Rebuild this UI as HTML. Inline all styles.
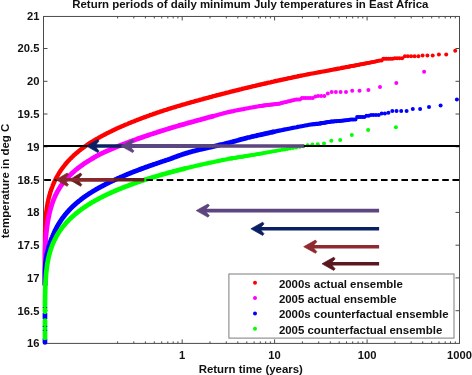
<!DOCTYPE html>
<html><head><meta charset="utf-8"><title>Return periods of daily minimum July temperatures in East Africa</title>
<style>
html,body{margin:0;padding:0;background:#fff;}
body{width:472px;height:375px;overflow:hidden;position:relative;}
text{font-family:"Liberation Sans",Arial,Helvetica,sans-serif;font-weight:bold;fill:#111;}
.t{font-size:11.45px;}
.k{font-size:11.2px;}
</style></head><body>
<svg width="472" height="375" viewBox="0 0 472 375" style="position:absolute;left:0;top:0">
<rect width="472" height="375" fill="#fff"/>
<rect x="43.5" y="16.45" width="416.0" height="326.95" fill="none" stroke="#4a4a4a" stroke-width="1"/>
<path d="M43.5,310.7h4M459.5,310.7h-4M43.5,277.9h4M459.5,277.9h-4M43.5,245.2h4M459.5,245.2h-4M43.5,212.4h4M459.5,212.4h-4M43.5,179.6h4M459.5,179.6h-4M43.5,146.8h4M459.5,146.8h-4M43.5,114.0h4M459.5,114.0h-4M43.5,81.3h4M459.5,81.3h-4M43.5,48.5h4M459.5,48.5h-4M117.6,343.4v-2M117.6,16.45v2M133.8,343.4v-2M133.8,16.45v2M145.4,343.4v-2M145.4,16.45v2M154.3,343.4v-2M154.3,16.45v2M161.7,343.4v-2M161.7,16.45v2M167.8,343.4v-2M167.8,16.45v2M173.2,343.4v-2M173.2,16.45v2M177.9,343.4v-2M177.9,16.45v2M182.2,343.4v-4M182.2,16.45v4M210.0,343.4v-2M210.0,16.45v2M226.3,343.4v-2M226.3,16.45v2M237.8,343.4v-2M237.8,16.45v2M246.8,343.4v-2M246.8,16.45v2M254.1,343.4v-2M254.1,16.45v2M260.3,343.4v-2M260.3,16.45v2M265.7,343.4v-2M265.7,16.45v2M270.4,343.4v-2M270.4,16.45v2M274.6,343.4v-4M274.6,16.45v4M302.4,343.4v-2M302.4,16.45v2M318.7,343.4v-2M318.7,16.45v2M330.3,343.4v-2M330.3,16.45v2M339.2,343.4v-2M339.2,16.45v2M346.5,343.4v-2M346.5,16.45v2M352.7,343.4v-2M352.7,16.45v2M358.1,343.4v-2M358.1,16.45v2M362.8,343.4v-2M362.8,16.45v2M367.1,343.4v-4M367.1,16.45v4M394.9,343.4v-2M394.9,16.45v2M411.2,343.4v-2M411.2,16.45v2M422.7,343.4v-2M422.7,16.45v2M431.7,343.4v-2M431.7,16.45v2M439.0,343.4v-2M439.0,16.45v2M445.2,343.4v-2M445.2,16.45v2M450.5,343.4v-2M450.5,16.45v2M455.3,343.4v-2M455.3,16.45v2" stroke="#4a4a4a" stroke-width="1" fill="none"/>
<path d="M45.0,341.0 L45.0,340.6 L45.0,340.3 L45.0,340.0 L45.0,339.7 L45.0,339.3 L45.0,339.0 L45.0,338.8 L45.0,338.5 L45.0,338.2 L45.0,337.8 L45.0,337.5 L45.0,337.2 L45.0,336.9 L45.0,336.6 L45.0,336.3 L45.0,336.0 L45.0,335.7 L45.0,335.4 L45.0,335.0 L45.0,334.8 L45.0,334.5 L45.0,334.2 L45.0,333.8 L45.0,333.5 L45.0,333.2 L45.0,332.9 L45.0,332.7 L45.0,332.3 L45.0,332.0 L45.0,331.7 L45.0,331.4 L45.0,331.0 L45.0,330.7 L45.0,330.5 L45.0,330.2 L45.0,329.9 L45.0,329.5 L45.0,329.2 L45.0,328.9 L45.0,328.7 L45.0,328.4 L45.0,328.0 L45.0,327.7 L45.0,327.4 L45.0,327.1 L45.0,326.7 L45.0,326.5 L45.0,326.2 L45.0,325.9 L45.0,325.6 L45.0,325.2 L45.0,324.9 L45.0,324.6 L45.0,324.4 L45.0,324.0 L45.0,323.7 L45.0,323.4 L45.0,323.1 L45.0,322.8 L45.0,322.4 L45.0,322.2 L45.0,321.9 L45.0,321.6 L45.0,321.2 L45.0,320.9 L45.0,320.6 L45.0,320.4 L45.0,320.1 L45.0,319.7 L45.0,319.4 L45.0,319.1 L45.0,318.8 L45.0,318.4 L45.0,318.2 L45.0,317.9 L45.0,317.6 L45.0,317.3 L45.0,316.9 L45.0,316.6 L45.0,316.3 L45.0,316.1 L45.0,315.8 L45.0,315.4 L45.0,315.1 L45.0,314.8 L45.0,314.5 L45.0,314.2 L45.0,313.9 L45.0,313.6 L45.0,313.3 L45.0,313.0 L45.0,312.6 L45.0,312.3 L45.0,312.1 L45.0,311.8 L45.0,311.4 L45.0,311.1 L45.0,310.8 L45.0,310.5 L45.0,310.2 L45.0,309.9 L45.0,309.6 L45.0,309.3 L45.0,309.0 L45.0,308.6 L45.0,308.3 L45.0,308.0 L45.0,307.8 L45.0,307.5 L45.0,307.1 L45.0,306.8 L45.0,306.5 L45.0,306.2 L45.0,306.0 L45.0,305.6 L45.0,305.3 L45.0,305.0 L45.0,304.7 L45.0,304.3 L45.0,304.0 L45.0,303.8 L45.0,303.5 L45.0,303.2 L45.0,302.8 L45.0,302.5 L45.0,302.2 L45.0,301.9 L45.0,301.6 L45.0,301.3 L45.0,301.0 L45.0,300.7 L45.0,300.3 L45.0,300.0 L45.0,299.8 L45.0,299.5 L45.0,299.2 L45.0,298.8 L45.0,298.5 L45.0,298.2 L45.0,297.9 L45.0,297.7 L45.0,297.3 L45.0,297.0 L45.0,296.7 L45.0,296.4 L45.0,296.0 L45.0,295.7 L45.0,295.5 L45.0,295.2 L45.0,294.9 L45.0,294.5 L45.0,294.2 L45.0,293.9 L45.0,293.6 L45.0,293.3 L45.0,293.0 L45.0,292.7 L45.0,292.4 L45.0,292.1 L45.0,291.7 L45.0,291.5 L45.0,291.2 L45.0,290.9 L45.0,290.5 L45.0,290.2 L45.0,289.9 L45.0,289.6 L45.0,289.4 L45.0,289.0 L45.0,288.7 L45.0,288.4 L45.0,288.1 L45.0,287.7 L45.0,287.4 L45.0,287.2 L45.0,286.9 L45.0,286.6 L45.0,286.2 L45.0,285.9 L45.0,285.6 L45.0,285.4 L45.0,285.1 L45.0,284.7 L45.0,284.4 L45.0,284.1" fill="none" stroke="#ff0000" stroke-width="3.6" stroke-linecap="butt" stroke-linejoin="round"/>
<path d="M45.0,284.7 L45.0,284.4 L45.0,284.1 L45.0,283.8 L45.0,283.4 L45.0,283.2 L45.0,282.9 L45.0,282.6 L45.0,282.3 L45.0,281.9 L45.0,281.6 L45.0,281.3 L45.0,281.1 L45.0,280.7 L45.0,280.4 L45.0,280.1 L45.0,279.8 L45.0,279.5 L45.0,279.2 L45.0,278.9 L45.0,278.6 L45.0,278.3 L45.0,277.9 L45.0,277.6 L45.0,277.3 L45.0,277.1 L45.0,276.8 L45.0,276.4 L45.0,276.1 L45.0,275.8 L45.0,275.5 L45.0,275.1 L45.0,274.9 L45.0,274.6 L45.0,274.3 L45.0,274.0 L45.0,273.6 L45.0,273.3 L45.0,273.0 L45.0,272.8 L45.0,272.5 L45.0,272.1 L45.0,271.8 L45.0,271.5 L45.0,271.2 L45.0,270.9 L45.0,270.6 L45.0,270.3 L45.0,270.0 L45.0,269.7 L45.0,269.3 L45.0,269.0 L45.0,268.8 L45.0,268.5 L45.0,268.1 L45.0,267.8 L45.0,267.5 L45.0,267.2 L45.0,266.9 L45.0,266.6 L45.0,266.3 L45.0,266.0 L45.0,265.7 L45.0,265.3 L45.0,265.0 L45.0,264.8 L45.0,264.5 L45.0,264.2 L45.0,263.8 L45.0,263.5 L45.0,263.2 L45.0,262.9 L45.0,262.7 L45.0,262.3 L45.0,262.0 L45.0,261.7 L45.0,261.4 L45.0,261.0 L45.0,260.7 L45.0,260.5 L45.0,260.2 L45.0,259.9 L45.0,259.5 L45.0,259.2 L45.0,258.9 L45.0,258.6 L45.0,258.3 L45.0,258.0 L45.0,257.7 L45.0,257.4 L45.0,257.1 L45.0,256.7 L45.0,256.5 L45.0,256.2 L45.0,255.9 L45.0,255.5 L45.0,255.2 L45.0,254.9 L45.0,254.6 L45.0,254.4 L45.0,254.0 L45.0,253.7 L45.0,253.4 L45.0,253.1 L45.0,252.7 L45.0,252.4 L45.0,252.2 L45.0,251.9 L45.0,251.6 L45.0,251.2 L45.0,250.9 L45.0,250.6 L45.0,250.4 L45.0,250.1 L45.0,249.7 L45.0,249.4 L45.0,249.1 L45.0,248.8 L45.0,248.4 L45.0,248.2 L45.0,247.9 L45.0,247.6 L45.0,247.3 L45.0,246.9 L45.0,246.6 L45.0,246.3 L45.0,246.1 L45.0,245.7 L45.0,245.4 L45.0,245.1 L45.0,244.8 L45.0,244.5 L45.0,244.1 L45.0,243.9 L45.0,243.6 L45.0,243.3 L45.0,242.9 L45.0,242.6 L45.0,242.3 L45.0,242.1 L45.0,241.8 L45.0,241.4 L45.0,241.1 L45.0,240.8 L45.0,240.5 L45.0,240.1 L45.0,239.9 L45.0,239.6 L45.0,239.3 L45.0,239.0 L45.0,238.6 L45.0,238.3 L45.0,238.0 L45.0,237.8 L45.0,237.5 L45.0,237.1 L45.0,236.8 L45.0,236.5 L45.0,236.2 L45.0,235.9 L45.0,235.6 L45.0,235.3 L45.1,235.0 L45.1,234.7 L45.1,234.3 L45.1,234.0 L45.1,233.8 L45.1,233.5 L45.1,233.1 L45.1,232.8 L45.1,232.5 L45.1,232.2 L45.1,231.9 L45.1,231.6 L45.1,231.3 L45.1,231.0 L45.1,230.7 L45.1,230.3 L45.2,230.0 L45.2,229.8 L45.2,229.5 L45.2,229.2 L45.2,228.8 L45.2,228.5 L45.2,228.2 L45.2,227.9 L45.2,227.7 L45.2,227.3 L45.2,227.0 L45.3,226.7 L45.3,226.4 L45.3,226.0 L45.3,225.7 L45.3,225.5 L45.3,225.2 L45.3,224.9 L45.3,224.5 L45.4,224.2 L45.4,223.9 L45.4,223.6 L45.4,223.3 L45.4,223.0 L45.4,222.7 L45.5,222.4 L45.5,222.1 L45.5,221.7 L45.5,221.5 L45.5,221.2 L45.5,220.9 L45.6,220.5 L45.6,220.2 L45.6,219.9 L45.6,219.6 L45.6,219.4 L45.7,219.0 L45.7,218.7 L45.7,218.4 L45.7,218.1 L45.8,217.7 L45.8,217.4 L45.8,217.2 L45.8,216.9 L45.9,216.6 L45.9,216.2 L45.9,215.9 L45.9,215.6 L46.0,215.4 L46.0,215.0 L46.0,214.7 L46.1,214.4 L46.1,214.1 L46.1,213.8 L46.2,213.4 L46.2,213.2 L46.2,212.9 L46.3,212.6 L46.3,212.2 L46.3,211.9 L46.4,211.6 L46.4,211.3 L46.4,211.1 L46.5,210.7 L46.5,210.4 L46.6,210.1 L46.6,209.8 L46.6,209.4 L46.7,209.1 L46.7,208.9 L46.8,208.6 L46.8,208.3 L46.9,207.9 L46.9,207.6 L47.0,207.3 L47.0,207.1 L47.0,206.8 L47.1,206.4 L47.1,206.1 L47.2,205.8 L47.2,205.5 L47.3,205.1 L47.3,204.9 L47.4,204.6 L47.5,204.3 L47.5,204.0 L47.6,203.6 L47.6,203.3 L47.7,203.0 L47.7,202.8 L47.8,202.4 L47.9,202.1 L47.9,201.8 L48.0,201.5 L48.1,201.2 L48.1,200.9 L48.2,200.6 L48.2,200.3 L48.3,200.0 L48.4,199.6 L48.5,199.3 L48.5,199.0 L48.6,198.8 L48.7,198.5 L48.7,198.1 L48.8,197.8 L48.9,197.5 L49.0,197.2 L49.1,196.8 L49.1,196.6 L49.2,196.3 L49.3,196.0 L49.4,195.7 L49.5,195.3 L49.5,195.0 L49.6,194.7 L49.7,194.5 L49.8,194.2 L49.9,193.8 L50.0,193.5 L50.1,193.2 L50.2,192.9 L50.2,192.6 L50.3,192.3 L50.4,192.0 L50.5,191.7 L50.6,191.4 L50.7,191.0 L50.9,190.7 L50.9,190.5 L51.0,190.2 L51.1,189.8 L51.3,189.5 L51.4,189.2 L51.5,188.9 L51.6,188.6 L51.7,188.3 L51.8,188.0 L51.9,187.7 L52.0,187.4 L52.2,187.0 L52.3,186.7 L52.4,186.5 L52.5,186.2 L52.6,185.9 L52.7,185.5 L52.9,185.2 L53.0,184.9 L53.1,184.6 L53.2,184.4 L53.4,184.0 L53.5,183.7 L53.6,183.4 L53.8,183.1 L53.9,182.7 L54.1,182.4 L54.2,182.2 L54.3,181.9 L54.5,181.6 L54.6,181.2 L54.8,180.9 L54.9,180.6 L55.1,180.3 L55.2,180.0 L55.3,179.7 L55.5,179.4 L55.7,179.1 L55.8,178.8 L56.0,178.4 L56.1,178.2 L56.3,177.9 L56.4,177.6 L56.6,177.2 L56.8,176.9 L57.0,176.6 L57.2,176.3 L57.3,176.1 L57.5,175.7 L57.6,175.4 L57.8,175.1 L58.0,174.8 L58.2,174.4 L58.4,174.1 L58.5,173.9 L58.7,173.6 L58.9,173.3 L59.1,172.9 L59.3,172.6 L59.5,172.3 L59.7,172.1 L59.9,171.8 L60.1,171.4 L60.3,171.1 L60.5,170.8 L60.7,170.5 L60.9,170.2 L61.1,169.9 L61.3,169.6 L61.5,169.3 L61.8,169.0 L62.0,168.7 L62.2,168.4 L62.4,168.0 L62.6,167.8 L62.8,167.5 L63.1,167.2 L63.3,166.9 L63.6,166.5 L63.8,166.2 L64.0,166.0 L64.2,165.7 L64.5,165.4 L64.7,165.1 L65.0,164.7 L65.3,164.4 L65.5,164.1 L65.7,163.9 L66.0,163.6 L66.2,163.3 L66.5,162.9 L66.8,162.6 L67.1,162.3 L67.3,162.0 L67.5,161.8 L67.8,161.5 L68.1,161.1 L68.4,160.8 L68.7,160.5 L69.0,160.2 L69.3,159.9 L69.5,159.7 L69.8,159.3 L70.1,159.0 L70.4,158.7 L70.7,158.4 L71.0,158.1 L71.3,157.9 L71.6,157.6 L71.9,157.2 L72.2,156.9 L72.6,156.6 L72.9,156.3 L73.2,156.0 L73.5,155.8 L73.8,155.4 L74.1,155.1 L74.5,154.8 L74.8,154.5 L75.2,154.2 L75.5,153.9 L75.8,153.7 L76.1,153.3 L76.5,153.0 L76.9,152.7 L77.3,152.4 L77.6,152.1 L77.9,151.9 L78.3,151.5 L78.7,151.2 L79.0,150.9 L79.4,150.6 L79.8,150.3 L80.2,150.0 L80.5,149.8 L80.9,149.4 L81.3,149.1 L81.7,148.8 L82.1,148.5 L82.6,148.2 L83.0,147.9 L83.3,147.7 L83.7,147.3 L84.1,147.0 L84.6,146.7 L85.0,146.4 L85.4,146.1 L85.9,145.8 L86.2,145.6 L86.6,145.3 L87.1,144.9 L87.6,144.6 L88.0,144.3 L88.5,144.0 L88.8,143.8 L89.3,143.5 L89.8,143.2 L90.3,142.8 L90.8,142.5 L91.2,142.2 L91.7,141.9 L92.1,141.7 L92.6,141.4 L93.1,141.1 L93.6,140.8 L94.1,140.5 L94.6,140.1 L95.2,139.8 L95.5,139.6 L96.0,139.3 L96.6,139.0 L97.1,138.7 L97.7,138.4 L98.2,138.1 L98.6,137.9 L99.1,137.5 L99.7,137.2 L100.3,136.9 L100.8,136.6 L101.4,136.3 L102.0,136.0 L102.4,135.7 L103.0,135.4 L103.6,135.1 L104.2,134.8 L104.8,134.5 L105.4,134.2 L106.0,133.8 L106.4,133.6 L107.0,133.3 L107.6,133.0 L108.3,132.7 L108.9,132.4 L109.5,132.0 L110.2,131.7 L110.6,131.5 L111.3,131.2 L111.9,130.9 L112.6,130.6 L113.2,130.2 L113.9,129.9 L114.4,129.7 L115.0,129.4 L115.7,129.1 L116.4,128.8 L117.1,128.4 L117.8,128.1 L118.5,127.8 L119.0,127.6 L119.7,127.3 L120.4,127.0 L121.1,126.6 L121.9,126.3 L122.6,126.0 L123.3,125.7 L123.8,125.5 L124.6,125.1 L125.3,124.8 L126.1,124.5 L126.9,124.2 L127.6,123.9 L128.2,123.6 L128.9,123.3 L129.7,123.0 L130.5,122.7 L131.3,122.3 L132.1,122.0 L132.9,121.7 L133.5,121.5 L134.3,121.2 L135.1,120.8 L135.9,120.5 L136.7,120.2 L137.6,119.9 L138.4,119.5 L139.0,119.3 L139.8,119.0 L140.7,118.7 L141.6,118.3 L142.4,118.0 L143.3,117.7 L143.9,117.4 L144.8,117.1 L145.7,116.8 L146.6,116.5 L147.5,116.1 L148.4,115.8 L149.3,115.5 L149.9,115.2 L150.8,114.9 L151.8,114.6 L152.7,114.3 L153.7,113.9 L154.6,113.6 L155.6,113.3 L156.2,113.0 L157.2,112.7 L158.1,112.4 L159.1,112.1 L160.1,111.7 L161.1,111.4 L162.1,111.1 L162.7,110.9 L163.7,110.5 L164.7,110.2 L165.8,109.9 L166.8,109.6 L167.8,109.2 L168.5,109.0 L169.5,108.7 L170.6,108.4 L171.6,108.0 L172.7,107.7 L173.8,107.4 L174.8,107.1 L175.5,106.9 L176.6,106.5 L177.7,106.2 L178.8,105.9 L179.9,105.6 L181.0,105.2 L182.1,104.9 L182.8,104.7 L184.0,104.4 L185.1,104.1 L186.2,103.7 L187.4,103.4 L188.5,103.1 L189.3,102.9 L190.4,102.5 L191.6,102.2 L192.7,101.9 L193.9,101.6 L195.1,101.2 L196.3,100.9 L197.1,100.7 L198.3,100.4 L199.5,100.0 L200.7,99.7 L201.9,99.4 L203.1,99.0 L204.3,98.7 L205.1,98.5 L206.4,98.1 L207.6,97.8 L208.9,97.5 L210.1,97.1 L211.4,96.8 L212.7,96.4 L213.5,96.2 L214.8,95.9 L216.1,95.5 L217.3,95.2 L218.6,94.9 L219.9,94.5 L220.8,94.3 L222.1,94.0 L223.4,93.6 L224.7,93.3 L226.1,92.9 L227.4,92.6 L228.7,92.3 L229.6,92.0 L231.0,91.7 L232.3,91.3 L233.7,91.0 L235.1,90.7 L236.4,90.3 L237.8,90.0 L238.7,89.8 L240.1,89.4 L241.5,89.1 L242.9,88.7 L244.3,88.4 L245.7,88.0 L246.7,87.8 L248.1,87.5 L249.5,87.1 L250.9,86.8 L252.4,86.4 L253.8,86.1 L255.3,85.8 L256.2,85.5 L257.7,85.2 L259.2,84.8 L260.6,84.5 L262.1,84.2 L263.6,83.8 L265.0,83.5 L266.0,83.3 L267.5,82.9 L269.0,82.6 L270.5,82.3 L272.0,81.9 L273.5,81.6 L275.1,81.2 L276.1,81.0 L277.6,80.7 L279.1,80.3 L280.7,80.0 L282.2,79.7 L283.7,79.3 L284.8,79.1 L286.3,78.8 L287.9,78.4 L289.4,78.1 L291.0,77.8 L292.6,77.4 L294.1,77.1 L295.2,76.9 L296.8,76.6 L298.4,76.2" fill="none" stroke="#ff0000" stroke-width="4.4" stroke-linecap="round" stroke-linejoin="round"/>
<path d="M298.4,76.2 L299.9,75.9 L301.5,75.6 L303.1,75.3 L304.7,75.0 L305.8,74.8 L307.4,74.4 L309.0,74.1 L310.6,73.8 L312.3,73.5 L313.9,73.2 L315.0,73.0 L316.6,72.7 L318.2,72.4 L319.9,72.1 L321.5,71.8 L323.2,71.5 L324.8,71.2 L325.9,71.0 L327.6,70.7 L329.2,70.4 L330.9,70.0 L332.5,69.7 L334.2,69.4 L335.9,69.1 L337.0,68.9 L338.7,68.6 L340.3,68.3 L342.0,67.9 L343.7,67.6 L345.4,67.3 L347.1,67.0" fill="none" stroke="#ff0000" stroke-width="4.2" stroke-linecap="round" stroke-linejoin="round"/>
<circle cx="346.5" cy="67.1" r="2.0" fill="#ff0000"/>
<circle cx="347.1" cy="66.9" r="2.0" fill="#ff0000"/>
<circle cx="347.8" cy="66.8" r="2.0" fill="#ff0000"/>
<circle cx="348.5" cy="66.7" r="2.0" fill="#ff0000"/>
<circle cx="349.2" cy="66.5" r="2.0" fill="#ff0000"/>
<circle cx="350.0" cy="66.4" r="2.0" fill="#ff0000"/>
<circle cx="350.7" cy="66.3" r="2.0" fill="#ff0000"/>
<circle cx="351.5" cy="66.1" r="2.0" fill="#ff0000"/>
<circle cx="352.2" cy="66.0" r="2.0" fill="#ff0000"/>
<circle cx="353.0" cy="65.8" r="2.0" fill="#ff0000"/>
<circle cx="353.8" cy="65.7" r="2.0" fill="#ff0000"/>
<circle cx="354.6" cy="65.5" r="2.0" fill="#ff0000"/>
<circle cx="355.4" cy="65.4" r="2.0" fill="#ff0000"/>
<circle cx="356.3" cy="65.2" r="2.0" fill="#ff0000"/>
<circle cx="357.1" cy="65.0" r="2.0" fill="#ff0000"/>
<circle cx="358.0" cy="64.9" r="2.0" fill="#ff0000"/>
<circle cx="358.9" cy="64.7" r="2.0" fill="#ff0000"/>
<circle cx="359.8" cy="64.5" r="2.0" fill="#ff0000"/>
<circle cx="360.8" cy="64.3" r="2.0" fill="#ff0000"/>
<circle cx="361.8" cy="64.2" r="2.0" fill="#ff0000"/>
<circle cx="362.7" cy="64.0" r="2.0" fill="#ff0000"/>
<circle cx="363.8" cy="63.8" r="2.0" fill="#ff0000"/>
<circle cx="364.8" cy="63.6" r="2.0" fill="#ff0000"/>
<circle cx="365.9" cy="63.4" r="2.0" fill="#ff0000"/>
<circle cx="367.0" cy="63.1" r="2.0" fill="#ff0000"/>
<circle cx="368.1" cy="62.9" r="2.0" fill="#ff0000"/>
<circle cx="369.3" cy="62.7" r="2.0" fill="#ff0000"/>
<circle cx="370.5" cy="62.4" r="2.0" fill="#ff0000"/>
<circle cx="371.7" cy="62.2" r="2.0" fill="#ff0000"/>
<circle cx="373.0" cy="61.9" r="2.0" fill="#ff0000"/>
<circle cx="374.3" cy="61.7" r="2.0" fill="#ff0000"/>
<circle cx="375.7" cy="61.4" r="2.0" fill="#ff0000"/>
<circle cx="377.1" cy="61.1" r="2.0" fill="#ff0000"/>
<circle cx="378.5" cy="60.8" r="2.0" fill="#ff0000"/>
<circle cx="455.2" cy="50.7" r="2.0" fill="#ff0000"/>
<circle cx="446.2" cy="54.5" r="2.0" fill="#ff0000"/>
<circle cx="438.9" cy="54.5" r="2.0" fill="#ff0000"/>
<circle cx="432.7" cy="55.4" r="2.0" fill="#ff0000"/>
<circle cx="427.4" cy="55.4" r="2.0" fill="#ff0000"/>
<circle cx="422.6" cy="55.4" r="2.0" fill="#ff0000"/>
<circle cx="418.4" cy="56.2" r="2.0" fill="#ff0000"/>
<circle cx="414.6" cy="56.2" r="2.0" fill="#ff0000"/>
<circle cx="411.1" cy="56.2" r="2.0" fill="#ff0000"/>
<circle cx="407.9" cy="56.2" r="2.0" fill="#ff0000"/>
<circle cx="404.9" cy="56.2" r="2.0" fill="#ff0000"/>
<circle cx="402.1" cy="58.3" r="2.0" fill="#ff0000"/>
<circle cx="399.5" cy="58.3" r="2.0" fill="#ff0000"/>
<circle cx="397.1" cy="58.3" r="2.0" fill="#ff0000"/>
<circle cx="394.8" cy="58.3" r="2.0" fill="#ff0000"/>
<circle cx="392.6" cy="58.8" r="2.0" fill="#ff0000"/>
<circle cx="390.6" cy="58.8" r="2.0" fill="#ff0000"/>
<circle cx="388.6" cy="58.8" r="2.0" fill="#ff0000"/>
<circle cx="386.8" cy="58.8" r="2.0" fill="#ff0000"/>
<circle cx="385.0" cy="58.8" r="2.0" fill="#ff0000"/>
<circle cx="383.3" cy="58.8" r="2.0" fill="#ff0000"/>
<circle cx="381.6" cy="60.5" r="2.0" fill="#ff0000"/>
<circle cx="380.0" cy="60.5" r="2.0" fill="#ff0000"/>
<path d="M45.0,341.0 L45.0,340.7 L45.0,340.4 L45.0,340.2 L45.0,339.9 L45.0,339.7 L45.0,339.3 L45.0,339.1 L45.0,338.8 L45.0,338.6 L45.0,338.4 L45.0,338.0 L45.0,337.8 L45.0,337.5 L45.0,337.3 L45.0,337.0 L45.0,336.8 L45.0,336.4 L45.0,336.2 L45.0,336.0 L45.0,335.7 L45.0,335.5 L45.0,335.1 L45.0,334.9 L45.0,334.6 L45.0,334.4 L45.0,334.1 L45.0,333.8 L45.0,333.6 L45.0,333.3 L45.0,333.1 L45.0,332.8 L45.0,332.6 L45.0,332.2 L45.0,332.0 L45.0,331.7 L45.0,331.5 L45.0,331.3 L45.0,330.9 L45.0,330.7 L45.0,330.4 L45.0,330.2 L45.0,329.9 L45.0,329.6 L45.0,329.3 L45.0,329.1 L45.0,328.9 L45.0,328.6 L45.0,328.4 L45.0,328.0 L45.0,327.8 L45.0,327.5 L45.0,327.3 L45.0,327.0 L45.0,326.7 L45.0,326.5 L45.0,326.2 L45.0,326.0 L45.0,325.7 L45.0,325.4 L45.0,325.1 L45.0,324.9 L45.0,324.6 L45.0,324.4 L45.0,324.2 L45.0,323.8 L45.0,323.6 L45.0,323.3 L45.0,323.1 L45.0,322.8 L45.0,322.5 L45.0,322.2 L45.0,322.0 L45.0,321.8 L45.0,321.5 L45.0,321.2 L45.0,320.9 L45.0,320.7 L45.0,320.4 L45.0,320.2 L45.0,319.8 L45.0,319.6 L45.0,319.4 L45.0,319.1 L45.0,318.9 L45.0,318.6 L45.0,318.3 L45.0,318.0 L45.0,317.8 L45.0,317.5 L45.0,317.3 L45.0,317.0 L45.0,316.7 L45.0,316.5 L45.0,316.2 L45.0,316.0 L45.0,315.6 L45.0,315.4 L45.0,315.1 L45.0,314.9 L45.0,314.7 L45.0,314.4 L45.0,314.1 L45.0,313.8 L45.0,313.6 L45.0,313.3 L45.0,313.1 L45.0,312.7 L45.0,312.5 L45.0,312.3 L45.0,312.0 L45.0,311.8 L45.0,311.4 L45.0,311.2 L45.0,310.9 L45.0,310.7 L45.0,310.4 L45.0,310.2 L45.0,309.9 L45.0,309.6 L45.0,309.4 L45.0,309.1 L45.0,308.9 L45.0,308.5 L45.0,308.3 L45.0,308.0 L45.0,307.8 L45.0,307.6 L45.0,307.2 L45.0,307.0 L45.0,306.7 L45.0,306.5 L45.0,306.2 L45.0,306.0 L45.0,305.6 L45.0,305.4 L45.0,305.2 L45.0,304.9 L45.0,304.7 L45.0,304.3 L45.0,304.1 L45.0,303.8 L45.0,303.6 L45.0,303.3 L45.0,303.0 L45.0,302.8 L45.0,302.5 L45.0,302.3 L45.0,302.0 L45.0,301.7 L45.0,301.4 L45.0,301.2 L45.0,300.9 L45.0,300.7 L45.0,300.5 L45.0,300.1 L45.0,299.9 L45.0,299.6 L45.0,299.4 L45.0,299.1 L45.0,298.8 L45.0,298.5 L45.0,298.3 L45.0,298.1 L45.0,297.8 L45.0,297.5 L45.0,297.2 L45.0,297.0 L45.0,296.7 L45.0,296.5 L45.0,296.1 L45.0,295.9 L45.0,295.7 L45.0,295.4 L45.0,295.2 L45.0,294.9 L45.0,294.6 L45.0,294.3 L45.0,294.1 L45.0,293.9 L45.0,293.6 L45.0,293.3 L45.0,293.0 L45.0,292.8 L45.0,292.5 L45.0,292.3 L45.0,291.9 L45.0,291.7 L45.0,291.5 L45.0,291.2 L45.0,291.0 L45.0,290.7 L45.0,290.4 L45.0,290.1 L45.0,289.9 L45.0,289.6 L45.0,289.4 L45.0,289.1 L45.0,288.8 L45.0,288.6 L45.0,288.3 L45.0,288.1 L45.0,287.7 L45.0,287.5 L45.0,287.2 L45.0,287.0 L45.0,286.8 L45.0,286.5 L45.0,286.2 L45.0,285.9 L45.0,285.7 L45.0,285.4 L45.0,285.2 L45.0,284.8 L45.0,284.6 L45.0,284.4 L45.0,284.1" fill="none" stroke="#ff00ff" stroke-width="3.6" stroke-linecap="butt" stroke-linejoin="round"/>
<path d="M45.0,284.8 L45.0,284.6 L45.0,284.4 L45.0,284.1 L45.0,283.9 L45.0,283.5 L45.0,283.3 L45.0,283.0 L45.0,282.8 L45.0,282.5 L45.0,282.3 L45.0,282.0 L45.0,281.7 L45.0,281.5 L45.0,281.2 L45.0,281.0 L45.0,280.6 L45.0,280.4 L45.0,280.1 L45.0,279.9 L45.0,279.7 L45.0,279.3 L45.0,279.1 L45.0,278.8 L45.0,278.6 L45.0,278.3 L45.0,278.1 L45.0,277.7 L45.0,277.5 L45.0,277.3 L45.0,277.0 L45.0,276.8 L45.0,276.4 L45.0,276.2 L45.0,275.9 L45.0,275.7 L45.0,275.4 L45.0,275.1 L45.0,274.9 L45.0,274.6 L45.0,274.4 L45.0,274.1 L45.0,273.9 L45.0,273.5 L45.0,273.3 L45.0,273.0 L45.0,272.8 L45.0,272.6 L45.0,272.2 L45.0,272.0 L45.0,271.7 L45.0,271.5 L45.0,271.2 L45.0,270.9 L45.0,270.6 L45.0,270.4 L45.0,270.2 L45.0,269.9 L45.0,269.7 L45.0,269.3 L45.0,269.1 L45.0,268.8 L45.0,268.6 L45.0,268.3 L45.0,268.0 L45.0,267.8 L45.0,267.5 L45.0,267.3 L45.0,267.0 L45.0,266.7 L45.0,266.4 L45.0,266.2 L45.0,265.9 L45.0,265.7 L45.0,265.5 L45.0,265.1 L45.0,264.9 L45.0,264.6 L45.0,264.4 L45.0,264.1 L45.0,263.8 L45.0,263.5 L45.0,263.3 L45.0,263.1 L45.0,262.8 L45.0,262.5 L45.0,262.2 L45.0,262.0 L45.0,261.7 L45.0,261.5 L45.0,261.1 L45.0,260.9 L45.0,260.7 L45.0,260.4 L45.0,260.2 L45.0,259.9 L45.0,259.6 L45.0,259.3 L45.0,259.1 L45.0,258.8 L45.0,258.6 L45.0,258.3 L45.0,258.0 L45.0,257.8 L45.0,257.5 L45.0,257.3 L45.0,256.9 L45.0,256.7 L45.0,256.4 L45.0,256.2 L45.0,256.0 L45.0,255.7 L45.0,255.4 L45.0,255.1 L45.0,254.9 L45.0,254.6 L45.0,254.4 L45.0,254.0 L45.0,253.8 L45.0,253.6 L45.0,253.3 L45.0,253.1 L45.1,252.7 L45.1,252.5 L45.1,252.2 L45.1,252.0 L45.1,251.7 L45.1,251.5 L45.1,251.2 L45.1,250.9 L45.1,250.7 L45.1,250.4 L45.1,250.2 L45.1,249.8 L45.1,249.6 L45.1,249.3 L45.1,249.1 L45.2,248.9 L45.2,248.5 L45.2,248.3 L45.2,248.0 L45.2,247.8 L45.2,247.5 L45.2,247.3 L45.2,247.0 L45.2,246.7 L45.2,246.5 L45.3,246.2 L45.3,246.0 L45.3,245.6 L45.3,245.4 L45.3,245.1 L45.3,244.9 L45.3,244.7 L45.3,244.3 L45.4,244.1 L45.4,243.8 L45.4,243.6 L45.4,243.3 L45.4,243.1 L45.4,242.7 L45.5,242.5 L45.5,242.3 L45.5,242.0 L45.5,241.8 L45.5,241.4 L45.5,241.2 L45.6,240.9 L45.6,240.7 L45.6,240.4 L45.6,240.1 L45.6,239.9 L45.6,239.6 L45.7,239.4 L45.7,239.1 L45.7,238.9 L45.7,238.5 L45.7,238.3 L45.8,238.0 L45.8,237.8 L45.8,237.6 L45.8,237.2 L45.9,237.0 L45.9,236.7 L45.9,236.5 L45.9,236.2 L45.9,235.9 L46.0,235.6 L46.0,235.4 L46.0,235.2 L46.1,234.9 L46.1,234.7 L46.1,234.3 L46.1,234.1 L46.2,233.8 L46.2,233.6 L46.2,233.3 L46.2,233.0 L46.3,232.8 L46.3,232.5 L46.3,232.3 L46.4,232.0 L46.4,231.7 L46.4,231.4 L46.4,231.2 L46.5,230.9 L46.5,230.7 L46.5,230.5 L46.6,230.1 L46.6,229.9 L46.6,229.6 L46.7,229.4 L46.7,229.1 L46.7,228.8 L46.8,228.5 L46.8,228.3 L46.8,228.1 L46.9,227.8 L46.9,227.5 L46.9,227.2 L47.0,227.0 L47.0,226.7 L47.0,226.5 L47.1,226.1 L47.1,225.9 L47.1,225.7 L47.2,225.4 L47.2,225.2 L47.3,224.9 L47.3,224.6 L47.4,224.3 L47.4,224.1 L47.4,223.8 L47.5,223.6 L47.5,223.3 L47.6,223.0 L47.6,222.8 L47.6,222.5 L47.7,222.3 L47.7,221.9 L47.8,221.7 L47.8,221.4 L47.9,221.2 L47.9,221.0 L48.0,220.6 L48.0,220.4 L48.0,220.1 L48.1,219.9 L48.1,219.6 L48.2,219.4 L48.2,219.0 L48.3,218.8 L48.3,218.6 L48.4,218.3 L48.4,218.1 L48.5,217.7 L48.5,217.5 L48.6,217.2 L48.6,217.0 L48.7,216.7 L48.7,216.4 L48.8,216.2 L48.9,215.9 L48.9,215.7 L49.0,215.4 L49.0,215.2 L49.1,214.8 L49.1,214.6 L49.2,214.3 L49.3,214.1 L49.3,213.9 L49.4,213.5 L49.4,213.3 L49.5,213.0 L49.6,212.8 L49.6,212.5 L49.7,212.2 L49.8,211.9 L49.8,211.7 L49.9,211.5 L49.9,211.2 L50.0,211.0 L50.1,210.6 L50.1,210.4 L50.2,210.1 L50.3,209.9 L50.4,209.6 L50.4,209.3 L50.5,209.1 L50.6,208.8 L50.6,208.6 L50.7,208.3 L50.8,208.0 L50.9,207.7 L50.9,207.5 L51.0,207.2 L51.1,207.0 L51.2,206.8 L51.3,206.4 L51.3,206.2 L51.4,205.9 L51.5,205.7 L51.6,205.4 L51.7,205.1 L51.8,204.8 L51.8,204.6 L51.9,204.4 L52.0,204.1 L52.1,203.8 L52.2,203.5 L52.3,203.3 L52.4,203.0 L52.4,202.8 L52.6,202.4 L52.6,202.2 L52.7,202.0 L52.8,201.7 L52.9,201.5 L53.0,201.2 L53.1,200.9 L53.2,200.6 L53.3,200.4 L53.4,200.2 L53.5,199.9 L53.6,199.6 L53.7,199.3 L53.8,199.1 L54.0,198.8 L54.0,198.6 L54.2,198.2 L54.3,198.0 L54.4,197.8 L54.5,197.5 L54.6,197.3 L54.7,197.0 L54.8,196.7 L55.0,196.4 L55.1,196.2 L55.2,195.9 L55.3,195.7 L55.4,195.4 L55.6,195.1 L55.7,194.9 L55.8,194.6 L55.9,194.4 L56.1,194.0 L56.2,193.8 L56.4,193.5 L56.5,193.3 L56.6,193.1 L56.8,192.8 L56.9,192.5 L57.0,192.2 L57.2,192.0 L57.3,191.7 L57.5,191.5 L57.6,191.1 L57.8,190.9 L57.9,190.7 L58.1,190.4 L58.2,190.2 L58.4,189.8 L58.5,189.6 L58.7,189.3 L58.8,189.1 L59.0,188.8 L59.2,188.6 L59.3,188.3 L59.5,188.0 L59.6,187.8 L59.8,187.5 L60.0,187.3 L60.2,186.9 L60.3,186.7 L60.6,186.4 L60.7,186.2 L60.8,186.0 L61.1,185.6 L61.2,185.4 L61.4,185.1 L61.6,184.9 L61.8,184.6 L62.0,184.4 L62.2,184.0 L62.4,183.8 L62.5,183.6 L62.8,183.3 L63.0,183.1 L63.2,182.7 L63.4,182.5 L63.6,182.2 L63.8,182.0 L64.1,181.7 L64.2,181.4 L64.4,181.2 L64.7,180.9 L64.9,180.7 L65.1,180.4 L65.3,180.2 L65.6,179.8 L65.8,179.6 L66.1,179.3 L66.2,179.1 L66.4,178.9 L66.7,178.5 L66.9,178.3 L67.2,178.0 L67.4,177.8 L67.7,177.5 L67.9,177.2 L68.2,176.9 L68.4,176.7 L68.6,176.5 L69.0,176.2 L69.2,176.0 L69.5,175.6 L69.7,175.4 L70.0,175.1 L70.3,174.9 L70.6,174.6 L70.8,174.3 L71.0,174.1 L71.4,173.8 L71.6,173.6 L72.0,173.3 L72.2,173.0 L72.6,172.7 L72.8,172.5 L73.2,172.2 L73.4,172.0 L73.6,171.8 L74.0,171.4 L74.3,171.2 L74.6,170.9 L74.9,170.7 L75.3,170.4 L75.5,170.1 L75.9,169.8 L76.2,169.6 L76.5,169.4 L76.9,169.1 L77.1,168.8 L77.5,168.5 L77.8,168.3 L78.2,168.0 L78.5,167.8 L78.9,167.4 L79.2,167.2 L79.5,167.0 L79.9,166.7 L80.2,166.5 L80.7,166.2 L81.0,165.9 L81.4,165.6 L81.7,165.4 L82.2,165.1 L82.5,164.9 L82.8,164.6 L83.2,164.3 L83.5,164.1 L84.0,163.8 L84.3,163.6 L84.8,163.2 L85.1,163.0 L85.6,162.7 L85.9,162.5 L86.3,162.3 L86.8,162.0 L87.1,161.7 L87.6,161.4 L87.9,161.2 L88.5,160.9 L88.8,160.7 L89.3,160.3 L89.7,160.1 L90.0,159.9 L90.6,159.6 L90.9,159.4 L91.5,159.0 L91.8,158.8 L92.4,158.5 L92.7,158.3 L93.3,158.0 L93.7,157.8 L94.0,157.5 L94.6,157.2 L95.0,157.0 L95.5,156.7 L95.9,156.5 L96.5,156.1 L96.9,155.9 L97.5,155.6 L97.9,155.4 L98.3,155.2 L98.9,154.8 L99.3,154.6 L99.9,154.3 L100.3,154.1 L100.9,153.8 L101.4,153.6 L101.8,153.4 L102.4,153.1 L102.8,152.9 L103.5,152.6 L103.9,152.4 L104.5,152.1 L105.0,151.9 L105.6,151.6 L106.1,151.4 L106.5,151.2 L107.2,150.9 L107.6,150.7 L108.3,150.4 L108.8,150.2 L109.4,149.9 L109.9,149.7 L110.6,149.4 L111.1,149.2 L111.5,149.0 L112.2,148.7 L112.7,148.5 L113.4,148.2 L113.9,148.0 L114.6,147.7 L115.1,147.5 L115.8,147.2 L116.3,147.0 L116.8,146.8 L117.6,146.5 L118.1,146.3 L118.8,145.9 L119.3,145.7 L120.1,145.4 L120.6,145.2 L121.4,144.9 L121.9,144.7 L122.4,144.5 L123.2,144.2 L123.7,144.0 L124.5,143.7 L125.0,143.5 L125.9,143.2 L126.4,143.0 L127.2,142.7 L127.7,142.5 L128.3,142.3 L129.1,142.0 L129.7,141.7 L130.5,141.4 L131.1,141.2 L131.9,140.9 L132.5,140.7 L133.3,140.4 L133.9,140.2 L134.5,140.0 L135.3,139.7 L135.9,139.5 L136.8,139.2 L137.4,138.9 L138.3,138.6 L138.9,138.4 L139.8,138.1 L140.4,137.9 L141.0,137.7 L141.9,137.4 L142.5,137.2 L143.4,136.9 L144.0,136.6 L145.0,136.3 L145.6,136.1 L146.5,135.8 L147.1,135.6 L147.8,135.4 L148.7,135.1 L149.4,134.8 L150.3,134.5 L151.0,134.3 L152.0,134.0 L152.6,133.8 L153.6,133.4 L154.3,133.2 L154.9,133.0 L155.9,132.7 L156.6,132.5 L157.6,132.1 L158.3,131.9 L159.3,131.6 L160.0,131.4 L161.0,131.0 L161.7,130.8 L162.4,130.6 L163.5,130.3 L164.2,130.1 L165.2,129.7 L165.9,129.5 L167.0,129.2 L167.7,129.0 L168.8,128.6 L169.5,128.4 L170.3,128.2 L171.4,127.8 L172.1,127.6 L173.2,127.3 L174.0,127.1 L175.1,126.7 L175.9,126.5 L177.0,126.2 L177.8,126.0 L178.5,125.7 L179.7,125.4 L180.5,125.2 L181.6,124.8 L182.4,124.6 L183.6,124.3 L184.4,124.1 L185.6,123.7 L186.4,123.5 L187.2,123.3 L188.4,122.9 L189.2,122.7 L190.4,122.4 L191.3,122.1 L192.5,121.8 L193.3,121.6 L194.6,121.2 L195.4,121.0 L196.3,120.7 L197.6,120.4 L198.4,120.2 L199.7,119.8 L200.6,119.6 L201.9,119.2 L202.8,119.0 L204.1,118.6 L205.0,118.3 L205.9,118.1 L207.2,117.7 L208.1,117.5 L209.5,117.1 L210.4,116.9 L211.8,116.5 L212.7,116.3" fill="none" stroke="#ff00ff" stroke-width="4.8" stroke-linecap="round" stroke-linejoin="round"/>
<path d="M211.8,116.5 L212.7,116.3 L214.1,115.9 L215.1,115.6 L216.0,115.4 L217.4,115.0 L218.4,114.7 L219.8,114.3 L220.8,114.1 L222.2,113.7 L223.2,113.4 L224.7,113.0 L225.7,112.8 L226.7,112.5 L228.2,112.1 L229.2,111.9 L230.7,111.6 L231.8,111.4 L233.3,111.1 L234.4,110.8 L235.9,110.5 L237.0,110.3 L238.0,110.1 L239.6,109.8 L240.7,109.6 L242.3,109.3 L243.4,109.1 L245.1,108.7 L246.2,108.5 L247.9,108.2 L249.0,108.0 L250.1,107.8 L251.8,107.5 L253.0,107.3 L254.7,107.0 L255.9,106.8 L257.6,106.5 L258.8,106.3 L260.6,106.0" fill="none" stroke="#ff00ff" stroke-width="4.2" stroke-linecap="round" stroke-linejoin="round"/>
<circle cx="259.7" cy="106.1" r="2.0" fill="#ff00ff"/>
<circle cx="260.4" cy="106.0" r="2.0" fill="#ff00ff"/>
<circle cx="261.1" cy="105.9" r="2.0" fill="#ff00ff"/>
<circle cx="261.8" cy="105.8" r="2.0" fill="#ff00ff"/>
<circle cx="262.5" cy="105.7" r="2.0" fill="#ff00ff"/>
<circle cx="263.2" cy="105.6" r="2.0" fill="#ff00ff"/>
<circle cx="263.9" cy="105.5" r="2.0" fill="#ff00ff"/>
<circle cx="264.7" cy="105.4" r="2.0" fill="#ff00ff"/>
<circle cx="265.5" cy="105.3" r="2.0" fill="#ff00ff"/>
<circle cx="266.2" cy="105.2" r="2.0" fill="#ff00ff"/>
<circle cx="267.0" cy="105.1" r="2.0" fill="#ff00ff"/>
<circle cx="267.9" cy="105.0" r="2.0" fill="#ff00ff"/>
<circle cx="268.7" cy="104.9" r="2.0" fill="#ff00ff"/>
<circle cx="269.5" cy="104.8" r="2.0" fill="#ff00ff"/>
<circle cx="270.4" cy="104.7" r="2.0" fill="#ff00ff"/>
<circle cx="271.3" cy="104.6" r="2.0" fill="#ff00ff"/>
<circle cx="272.2" cy="104.5" r="2.0" fill="#ff00ff"/>
<circle cx="273.1" cy="104.4" r="2.0" fill="#ff00ff"/>
<circle cx="274.0" cy="104.3" r="2.0" fill="#ff00ff"/>
<circle cx="275.0" cy="104.2" r="2.0" fill="#ff00ff"/>
<circle cx="276.0" cy="104.0" r="2.0" fill="#ff00ff"/>
<circle cx="277.0" cy="103.9" r="2.0" fill="#ff00ff"/>
<circle cx="278.1" cy="103.8" r="2.0" fill="#ff00ff"/>
<circle cx="279.1" cy="103.7" r="2.0" fill="#ff00ff"/>
<circle cx="280.2" cy="103.4" r="2.0" fill="#ff00ff"/>
<circle cx="281.4" cy="103.1" r="2.0" fill="#ff00ff"/>
<circle cx="282.5" cy="102.8" r="2.0" fill="#ff00ff"/>
<circle cx="283.7" cy="102.5" r="2.0" fill="#ff00ff"/>
<circle cx="285.0" cy="102.2" r="2.0" fill="#ff00ff"/>
<circle cx="286.2" cy="101.9" r="2.0" fill="#ff00ff"/>
<circle cx="287.5" cy="101.6" r="2.0" fill="#ff00ff"/>
<circle cx="288.9" cy="101.3" r="2.0" fill="#ff00ff"/>
<circle cx="290.3" cy="100.9" r="2.0" fill="#ff00ff"/>
<circle cx="291.8" cy="100.6" r="2.0" fill="#ff00ff"/>
<circle cx="293.3" cy="100.2" r="2.0" fill="#ff00ff"/>
<circle cx="424.1" cy="71.8" r="2.0" fill="#ff00ff"/>
<circle cx="396.3" cy="83.1" r="2.0" fill="#ff00ff"/>
<circle cx="380.0" cy="86.9" r="2.0" fill="#ff00ff"/>
<circle cx="368.4" cy="89.9" r="2.0" fill="#ff00ff"/>
<circle cx="359.5" cy="90.8" r="2.0" fill="#ff00ff"/>
<circle cx="352.2" cy="90.8" r="2.0" fill="#ff00ff"/>
<circle cx="346.0" cy="91.9" r="2.0" fill="#ff00ff"/>
<circle cx="340.6" cy="91.9" r="2.0" fill="#ff00ff"/>
<circle cx="335.9" cy="91.9" r="2.0" fill="#ff00ff"/>
<circle cx="331.7" cy="91.9" r="2.0" fill="#ff00ff"/>
<circle cx="327.8" cy="93.6" r="2.0" fill="#ff00ff"/>
<circle cx="324.3" cy="95.9" r="2.0" fill="#ff00ff"/>
<circle cx="321.1" cy="95.9" r="2.0" fill="#ff00ff"/>
<circle cx="318.1" cy="95.9" r="2.0" fill="#ff00ff"/>
<circle cx="315.4" cy="96.6" r="2.0" fill="#ff00ff"/>
<circle cx="312.8" cy="97.9" r="2.0" fill="#ff00ff"/>
<circle cx="310.4" cy="97.9" r="2.0" fill="#ff00ff"/>
<circle cx="308.1" cy="97.9" r="2.0" fill="#ff00ff"/>
<circle cx="305.9" cy="97.9" r="2.0" fill="#ff00ff"/>
<circle cx="303.8" cy="97.9" r="2.0" fill="#ff00ff"/>
<circle cx="301.9" cy="97.9" r="2.0" fill="#ff00ff"/>
<circle cx="300.0" cy="99.6" r="2.0" fill="#ff00ff"/>
<circle cx="298.2" cy="99.6" r="2.0" fill="#ff00ff"/>
<circle cx="296.5" cy="99.6" r="2.0" fill="#ff00ff"/>
<circle cx="294.9" cy="99.8" r="2.0" fill="#ff00ff"/>
<path d="M45.0,340.8 L45.0,340.6 L45.0,340.3 L45.0,340.1 L45.0,339.9 L45.0,339.7 L45.0,339.3 L45.0,339.1 L45.0,338.9 L45.0,338.7 L45.0,338.4 L45.0,338.2 L45.0,337.9 L45.0,337.6 L45.0,337.4 L45.0,337.2 L45.0,337.0 L45.0,336.6 L45.0,336.4 L45.0,336.2 L45.0,336.0 L45.0,335.7 L45.0,335.5 L45.0,335.2 L45.0,334.9 L45.0,334.7 L45.0,334.5 L45.0,334.3 L45.0,334.0 L45.0,333.7 L45.0,333.5 L45.0,333.3 L45.0,333.0 L45.0,332.8 L45.0,332.6 L45.0,332.2 L45.0,332.0 L45.0,331.8 L45.0,331.6 L45.0,331.3 L45.0,331.0 L45.0,330.8 L45.0,330.5 L45.0,330.3 L45.0,330.1 L45.0,329.9 L45.0,329.5 L45.0,329.3 L45.0,329.1 L45.0,328.9 L45.0,328.6 L45.0,328.4 L45.0,328.1 L45.0,327.8 L45.0,327.6 L45.0,327.4 L45.0,327.2 L45.0,326.8 L45.0,326.6 L45.0,326.4 L45.0,326.2 L45.0,325.9 L45.0,325.7 L45.0,325.4 L45.0,325.1 L45.0,324.9 L45.0,324.7 L45.0,324.5 L45.0,324.2 L45.0,323.9 L45.0,323.7 L45.0,323.5 L45.0,323.2 L45.0,323.0 L45.0,322.8 L45.0,322.4 L45.0,322.2 L45.0,322.0 L45.0,321.8 L45.0,321.5 L45.0,321.2 L45.0,321.0 L45.0,320.7 L45.0,320.5 L45.0,320.3 L45.0,320.1 L45.0,319.7 L45.0,319.5 L45.0,319.3 L45.0,319.1 L45.0,318.8 L45.0,318.6 L45.0,318.3 L45.0,318.0 L45.0,317.8 L45.0,317.6 L45.0,317.4 L45.0,317.0 L45.0,316.8 L45.0,316.6 L45.0,316.4 L45.0,316.1 L45.0,315.9 L45.0,315.6 L45.0,315.3 L45.0,315.1 L45.0,314.9 L45.0,314.7 L45.0,314.4 L45.0,314.1 L45.0,313.9 L45.0,313.7 L45.0,313.4 L45.0,313.2 L45.0,313.0 L45.0,312.6 L45.0,312.4 L45.0,312.2 L45.0,312.0 L45.0,311.7 L45.0,311.4 L45.0,311.2 L45.0,311.0 L45.0,310.7 L45.0,310.5 L45.0,310.3 L45.0,309.9 L45.0,309.7 L45.0,309.5 L45.0,309.3 L45.0,309.0 L45.0,308.8 L45.0,308.5 L45.0,308.2 L45.0,308.0 L45.0,307.8 L45.0,307.6 L45.0,307.2 L45.0,307.0 L45.0,306.8 L45.0,306.6 L45.0,306.3 L45.0,306.1 L45.0,305.8 L45.0,305.5 L45.0,305.3 L45.0,305.1 L45.0,304.9 L45.0,304.6 L45.0,304.3 L45.0,304.1 L45.0,303.9 L45.0,303.6 L45.0,303.4 L45.0,303.2 L45.0,302.8 L45.0,302.6 L45.0,302.4 L45.0,302.2 L45.0,301.9 L45.0,301.6 L45.0,301.4 L45.0,301.2 L45.0,300.9 L45.0,300.7 L45.0,300.5 L45.0,300.1 L45.0,299.9 L45.0,299.7 L45.0,299.5 L45.0,299.2 L45.0,298.9 L45.0,298.7 L45.0,298.4 L45.0,298.2 L45.0,298.0 L45.0,297.8 L45.0,297.4 L45.0,297.2 L45.0,297.0 L45.0,296.8 L45.0,296.5 L45.0,296.3 L45.0,296.0 L45.0,295.7 L45.0,295.5 L45.0,295.3 L45.0,295.1 L45.0,294.7 L45.0,294.5 L45.0,294.3 L45.0,294.1 L45.0,293.8 L45.0,293.6 L45.0,293.3 L45.0,293.0 L45.0,292.8 L45.0,292.6 L45.0,292.4 L45.0,292.1 L45.0,291.8 L45.0,291.6 L45.0,291.4 L45.0,291.1 L45.0,290.9 L45.0,290.7 L45.0,290.3 L45.0,290.1 L45.0,289.9 L45.0,289.7 L45.0,289.4 L45.0,289.1 L45.0,288.9 L45.0,288.7 L45.0,288.4 L45.0,288.2 L45.0,288.0 L45.0,287.6 L45.0,287.4 L45.0,287.2 L45.0,287.0 L45.0,286.7 L45.0,286.5 L45.0,286.2 L45.0,285.9 L45.0,285.7 L45.0,285.5 L45.0,285.3 L45.0,284.9 L45.0,284.7 L45.0,284.5 L45.0,284.3" fill="none" stroke="#0000ff" stroke-width="3.6" stroke-linecap="butt" stroke-linejoin="round"/>
<path d="M44.95,313V319" stroke="#0000ff" stroke-width="4.7" fill="none"/>
<path d="M44.95,339V342.4" stroke="#0000ff" stroke-width="4.7" stroke-linecap="round" fill="none"/>
<path d="M45.0,284.9 L45.0,284.7 L45.0,284.5 L45.0,284.3 L45.0,284.0 L45.0,283.8 L45.0,283.5 L45.0,283.2 L45.0,283.0 L45.0,282.8 L45.0,282.6 L45.0,282.3 L45.0,282.0 L45.0,281.8 L45.0,281.6 L45.0,281.3 L45.0,281.1 L45.0,280.9 L45.0,280.5 L45.0,280.3 L45.0,280.1 L45.0,279.9 L45.0,279.6 L45.0,279.3 L45.0,279.1 L45.0,278.9 L45.0,278.6 L45.0,278.4 L45.0,278.2 L45.0,277.8 L45.0,277.6 L45.0,277.4 L45.0,277.2 L45.0,276.9 L45.0,276.7 L45.0,276.4 L45.0,276.1 L45.0,275.9 L45.0,275.7 L45.0,275.5 L45.0,275.1 L45.0,274.9 L45.0,274.7 L45.0,274.5 L45.0,274.2 L45.0,274.0 L45.0,273.7 L45.0,273.4 L45.0,273.2 L45.0,273.0 L45.0,272.8 L45.0,272.5 L45.0,272.2 L45.0,272.0 L45.0,271.8 L45.1,271.5 L45.1,271.3 L45.1,271.1 L45.1,270.7 L45.1,270.5 L45.1,270.3 L45.1,270.1 L45.1,269.8 L45.1,269.5 L45.1,269.3 L45.1,269.1 L45.1,268.8 L45.2,268.6 L45.2,268.4 L45.2,268.0 L45.2,267.8 L45.2,267.6 L45.2,267.4 L45.2,267.1 L45.3,266.9 L45.3,266.6 L45.3,266.4 L45.3,266.1 L45.3,265.9 L45.3,265.7 L45.4,265.3 L45.4,265.1 L45.4,264.9 L45.4,264.7 L45.4,264.4 L45.5,264.2 L45.5,263.9 L45.5,263.6 L45.5,263.4 L45.5,263.2 L45.6,263.0 L45.6,262.7 L45.6,262.4 L45.6,262.2 L45.7,262.0 L45.7,261.7 L45.7,261.5 L45.8,261.3 L45.8,260.9 L45.8,260.7 L45.9,260.5 L45.9,260.3 L45.9,260.0 L46.0,259.7 L46.0,259.5 L46.0,259.3 L46.1,259.0 L46.1,258.8 L46.1,258.6 L46.2,258.2 L46.2,258.0 L46.2,257.8 L46.3,257.6 L46.3,257.3 L46.4,257.1 L46.4,256.8 L46.4,256.6 L46.5,256.3 L46.5,256.1 L46.6,255.9 L46.6,255.5 L46.7,255.3 L46.7,255.1 L46.8,254.9 L46.8,254.6 L46.9,254.4 L46.9,254.1 L47.0,253.8 L47.0,253.6 L47.1,253.4 L47.1,253.2 L47.2,252.9 L47.3,252.6 L47.3,252.4 L47.4,252.2 L47.4,251.9 L47.5,251.7 L47.5,251.5 L47.6,251.1 L47.7,250.9 L47.7,250.7 L47.8,250.5 L47.9,250.2 L47.9,249.9 L48.0,249.7 L48.0,249.5 L48.1,249.2 L48.2,249.0 L48.2,248.8 L48.3,248.4 L48.4,248.2 L48.4,248.0 L48.5,247.8 L48.6,247.5 L48.6,247.3 L48.7,247.0 L48.8,246.8 L48.9,246.5 L48.9,246.3 L49.0,246.1 L49.1,245.7 L49.2,245.5 L49.2,245.3 L49.3,245.1 L49.4,244.8 L49.5,244.6 L49.5,244.3 L49.6,244.1 L49.7,243.8 L49.8,243.6 L49.8,243.4 L50.0,243.1 L50.0,242.8 L50.1,242.6 L50.2,242.4 L50.3,242.1 L50.4,241.9 L50.4,241.7 L50.5,241.3 L50.6,241.1 L50.7,240.9 L50.8,240.7 L50.9,240.4 L51.0,240.1 L51.1,239.9 L51.1,239.7 L51.3,239.4 L51.3,239.2 L51.4,239.0 L51.5,238.6 L51.6,238.4 L51.7,238.2 L51.8,238.0 L51.9,237.7 L52.0,237.5 L52.1,237.2 L52.2,237.0 L52.3,236.7 L52.4,236.5 L52.5,236.3 L52.6,235.9 L52.7,235.7 L52.8,235.5 L52.9,235.3 L53.0,235.0 L53.1,234.8 L53.2,234.5 L53.3,234.3 L53.5,234.0 L53.6,233.8 L53.7,233.6 L53.8,233.3 L53.9,233.0 L54.0,232.8 L54.1,232.6 L54.3,232.3 L54.4,232.1 L54.5,231.9 L54.6,231.5 L54.7,231.3 L54.8,231.1 L54.9,230.9 L55.1,230.6 L55.2,230.3 L55.3,230.1 L55.4,229.9 L55.6,229.6 L55.7,229.4 L55.8,229.2 L56.0,228.8 L56.1,228.6 L56.2,228.4 L56.3,228.2 L56.5,227.9 L56.6,227.7 L56.7,227.4 L56.8,227.2 L57.0,226.9 L57.1,226.7 L57.2,226.5 L57.4,226.1 L57.5,225.9 L57.7,225.7 L57.8,225.5 L58.0,225.2 L58.1,225.0 L58.2,224.7 L58.3,224.5 L58.5,224.2 L58.7,224.0 L58.8,223.8 L59.0,223.5 L59.1,223.2 L59.3,223.0 L59.4,222.8 L59.6,222.5 L59.7,222.3 L59.9,222.1 L60.1,221.7 L60.2,221.5 L60.4,221.3 L60.5,221.1 L60.7,220.8 L60.9,220.5 L61.0,220.3 L61.1,220.1 L61.4,219.8 L61.5,219.6 L61.7,219.4 L61.9,219.0 L62.0,218.8 L62.2,218.6 L62.3,218.4 L62.6,218.1 L62.7,217.8 L62.9,217.6 L63.1,217.4 L63.3,217.1 L63.5,216.9 L63.6,216.7 L63.9,216.3 L64.0,216.1 L64.2,215.9 L64.4,215.7 L64.6,215.4 L64.8,215.2 L65.0,214.9 L65.1,214.7 L65.4,214.4 L65.6,214.2 L65.8,214.0 L66.0,213.6 L66.2,213.4 L66.4,213.2 L66.6,213.0 L66.8,212.7 L67.0,212.5 L67.2,212.2 L67.4,212.0 L67.7,211.7 L67.9,211.5 L68.1,211.3 L68.4,211.0 L68.6,210.7 L68.8,210.5 L69.0,210.3 L69.3,210.0 L69.5,209.8 L69.7,209.6 L70.0,209.2 L70.2,209.0 L70.4,208.8 L70.6,208.6 L70.9,208.3 L71.2,208.0 L71.4,207.8 L71.6,207.6 L71.9,207.3 L72.1,207.1 L72.4,206.9 L72.7,206.5 L72.9,206.3 L73.2,206.1 L73.4,205.9 L73.7,205.6 L74.0,205.4 L74.2,205.1 L74.4,204.9 L74.8,204.6 L75.0,204.4 L75.3,204.2 L75.6,203.8 L75.9,203.6 L76.1,203.4 L76.4,203.2 L76.8,202.9 L77.0,202.7 L77.3,202.4 L77.5,202.2 L77.9,201.9 L78.2,201.7 L78.4,201.5 L78.8,201.2 L79.1,200.9 L79.4,200.7 L79.7,200.5 L80.1,200.2 L80.3,200.0 L80.6,199.8 L81.0,199.4 L81.3,199.2 L81.6,199.0 L81.9,198.8 L82.3,198.5 L82.6,198.2 L82.9,198.0 L83.2,197.8 L83.6,197.5 L83.9,197.3 L84.2,197.1 L84.7,196.7 L85.0,196.5 L85.3,196.3 L85.6,196.1 L86.1,195.8 L86.4,195.6 L86.7,195.3 L87.0,195.1 L87.5,194.8 L87.8,194.6 L88.1,194.4 L88.6,194.0 L89.0,193.8 L89.3,193.6 L89.6,193.4 L90.1,193.1 L90.5,192.9 L90.8,192.6 L91.2,192.4 L91.7,192.1 L92.0,191.9 L92.4,191.7 L92.9,191.4 L93.2,191.1 L93.6,190.9 L94.0,190.7 L94.5,190.4 L94.9,190.2 L95.2,190.0 L95.6,189.7 L96.2,189.4 L96.5,189.2 L96.9,189.0 L97.5,188.7 L97.8,188.4 L98.2,188.2 L98.6,188.0 L99.2,187.7 L99.6,187.5 L100.0,187.3 L100.6,186.9 L101.0,186.7 L101.4,186.5 L101.8,186.3 L102.4,186.0 L102.8,185.8 L103.2,185.5 L103.6,185.3 L104.2,185.0 L104.6,184.8 L105.0,184.6 L105.7,184.2 L106.1,184.0 L106.5,183.8 L106.9,183.6 L107.6,183.3 L108.0,183.1 L108.5,182.8 L108.9,182.6 L109.6,182.3 L110.0,182.1 L110.4,181.9 L111.1,181.6 L111.6,181.3 L112.0,181.1 L112.5,180.9 L113.2,180.6 L113.6,180.4 L114.1,180.2 L114.5,179.9 L115.3,179.6 L115.7,179.4 L116.2,179.2 L116.9,178.9 L117.4,178.6 L117.9,178.4 L118.3,178.2 L119.1,177.9 L119.6,177.7 L120.1,177.5 L120.8,177.1 L121.3,176.9 L121.8,176.7 L122.3,176.5 L123.0,176.2 L123.5,176.0 L124.0,175.7 L124.6,175.5 L125.3,175.2 L125.8,175.0 L126.4,174.8 L127.1,174.4 L127.7,174.2 L128.2,174.0 L128.7,173.8 L129.5,173.5 L130.0,173.3 L130.6,173.0 L131.1,172.8 L131.9,172.5 L132.5,172.3 L133.0,172.1 L133.8,171.8 L134.4,171.5 L134.9,171.3 L135.5,171.1 L136.3,170.8 L136.9,170.6 L137.4,170.4 L138.0,170.1 L138.9,169.8 L139.4,169.6 L140.0,169.4 L140.9,169.1 L141.4,168.8 L142.0,168.6 L142.6,168.4 L143.5,168.1 L144.0,167.9 L144.6,167.7 L145.2,167.4 L146.1,167.1 L146.7,166.9 L147.3,166.7 L148.2,166.4 L148.8,166.2 L149.4,165.9 L150.0,165.7 L150.9,165.4 L151.6,165.2 L152.2,165.0 L153.1,164.6 L153.7,164.4 L154.3,164.2 L155.0,164.0 L155.9,163.7 L156.5,163.5 L157.2,163.2 L157.8,163.0 L158.8,162.7 L159.4,162.5 L160.0,162.3 L161.0,162.0 L161.6,161.7 L162.3,161.5 L162.9,161.3 L163.9,161.0 L164.6,160.8 L165.2,160.6 L165.9,160.3 L166.9,160.0 L167.6,159.8 L168.2,159.6 L169.2,159.3 L169.9,159.0 L170.6,158.8 L171.3,158.5 L172.3,158.1 L173.0,157.9 L173.6,157.6 L174.3,157.3 L175.4,156.9 L176.0,156.7 L176.7,156.4 L177.8,156.1 L178.5,155.8 L179.2,155.6 L179.9,155.3 L180.9,155.0 L181.6,154.7 L182.4,154.5 L183.4,154.1 L184.1,153.9 L184.9,153.7 L185.6,153.4 L186.7,153.1 L187.4,152.9 L188.1,152.7 L188.8,152.4 L189.9,152.1 L190.7,151.9 L191.4,151.7 L192.5,151.4 L193.3,151.2 L194.0,151.0 L194.7,150.8 L195.9,150.5 L196.6,150.3 L197.4,150.1 L198.1,150.0 L199.3,149.7 L200.0,149.5 L200.8,149.3 L201.9,149.1 L202.7,148.9 L203.5,148.7 L204.3,148.6 L205.4,148.3 L206.2,148.1 L207.0,147.9 L207.8,147.8 L208.9,147.5 L209.7,147.3 L210.5,147.1 L211.7,146.8 L212.5,146.6 L213.3,146.4 L214.1,146.3 L215.3,146.0 L216.1,145.8 L216.9,145.6 L217.8,145.4 L219.0,145.1 L219.8,144.9 L220.6,144.7 L221.9,144.5 L222.7,144.3 L223.5,144.1 L224.4,143.9 L225.6,143.6 L226.4,143.4 L227.3,143.2 L228.6,142.8 L229.4,142.6 L230.3,142.4 L231.1,142.2 L232.4,141.9 L233.3,141.6 L234.1,141.4 L235.0,141.2 L236.3,140.8 L237.2,140.5 L238.0,140.3 L239.4,139.9 L240.2,139.7 L241.1,139.4 L242.0,139.2 L243.4,138.8 L244.3,138.6 L245.2,138.3 L246.1,138.1 L247.4,137.7 L248.3,137.5 L249.3,137.3 L250.6,137.0 L251.6,136.7 L252.5,136.5 L253.4,136.3 L254.8,136.0 L255.8,135.8 L256.7,135.6 L257.6,135.3 L259.1,135.0 L260.0,134.8 L261.0,134.6 L262.4,134.3 L263.4,134.1 L264.4,133.8 L265.3,133.6 L266.8,133.3 L267.8,133.1 L268.8,132.9 L270.3,132.5 L271.3,132.3 L272.3,132.1 L273.3,131.9" fill="none" stroke="#0000ff" stroke-width="4.8" stroke-linecap="round" stroke-linejoin="round"/>
<path d="M272.3,132.1 L273.3,131.9 L274.8,131.6 L275.8,131.4 L276.8,131.1 L277.9,130.9 L279.4,130.6 L280.5,130.4 L281.5,130.2 L283.1,129.9 L284.1,129.6 L285.2,129.4 L286.2,129.2 L287.9,128.9 L288.9,128.7 L290.0,128.5 L291.1,128.2 L292.7,127.9 L293.8,127.7 L294.9,127.5 L296.6,127.2 L297.7,126.9 L298.9,126.7 L300.0,126.5 L301.7,126.2 L302.8,126.0 L304.0,125.8 L305.1,125.5 L306.9,125.2 L308.1,125.0 L309.2,124.8 L311.0,124.5 L312.2,124.3 L313.4,124.2 L314.6,124.1 L316.4,123.9 L317.6,123.8 L318.9,123.7 L320.7,123.3" fill="none" stroke="#0000ff" stroke-width="4.2" stroke-linecap="round" stroke-linejoin="round"/>
<circle cx="320.3" cy="123.4" r="2.0" fill="#0000ff"/>
<circle cx="321.0" cy="123.3" r="2.0" fill="#0000ff"/>
<circle cx="321.7" cy="123.2" r="2.0" fill="#0000ff"/>
<circle cx="322.4" cy="123.1" r="2.0" fill="#0000ff"/>
<circle cx="323.1" cy="122.9" r="2.0" fill="#0000ff"/>
<circle cx="323.8" cy="122.8" r="2.0" fill="#0000ff"/>
<circle cx="324.5" cy="122.7" r="2.0" fill="#0000ff"/>
<circle cx="325.3" cy="122.6" r="2.0" fill="#0000ff"/>
<circle cx="326.1" cy="122.4" r="2.0" fill="#0000ff"/>
<circle cx="326.8" cy="122.3" r="2.0" fill="#0000ff"/>
<circle cx="327.6" cy="122.2" r="2.0" fill="#0000ff"/>
<circle cx="328.5" cy="122.0" r="2.0" fill="#0000ff"/>
<circle cx="329.3" cy="121.9" r="2.0" fill="#0000ff"/>
<circle cx="330.1" cy="121.8" r="2.0" fill="#0000ff"/>
<circle cx="331.0" cy="121.6" r="2.0" fill="#0000ff"/>
<circle cx="331.9" cy="121.5" r="2.0" fill="#0000ff"/>
<circle cx="332.8" cy="121.4" r="2.0" fill="#0000ff"/>
<circle cx="333.7" cy="121.4" r="2.0" fill="#0000ff"/>
<circle cx="334.6" cy="121.3" r="2.0" fill="#0000ff"/>
<circle cx="335.6" cy="121.2" r="2.0" fill="#0000ff"/>
<circle cx="336.6" cy="121.2" r="2.0" fill="#0000ff"/>
<circle cx="337.6" cy="121.1" r="2.0" fill="#0000ff"/>
<circle cx="338.7" cy="121.0" r="2.0" fill="#0000ff"/>
<circle cx="339.7" cy="120.9" r="2.0" fill="#0000ff"/>
<circle cx="340.8" cy="120.8" r="2.0" fill="#0000ff"/>
<circle cx="342.0" cy="120.7" r="2.0" fill="#0000ff"/>
<circle cx="343.1" cy="120.6" r="2.0" fill="#0000ff"/>
<circle cx="344.3" cy="120.5" r="2.0" fill="#0000ff"/>
<circle cx="345.6" cy="120.3" r="2.0" fill="#0000ff"/>
<circle cx="346.8" cy="120.2" r="2.0" fill="#0000ff"/>
<circle cx="348.1" cy="120.0" r="2.0" fill="#0000ff"/>
<circle cx="349.5" cy="119.8" r="2.0" fill="#0000ff"/>
<circle cx="456.9" cy="99.6" r="2.0" fill="#0000ff"/>
<circle cx="440.6" cy="105.4" r="2.0" fill="#0000ff"/>
<circle cx="429.0" cy="107.1" r="2.0" fill="#0000ff"/>
<circle cx="420.1" cy="109.0" r="2.0" fill="#0000ff"/>
<circle cx="412.8" cy="109.0" r="2.0" fill="#0000ff"/>
<circle cx="406.6" cy="111.1" r="2.0" fill="#0000ff"/>
<circle cx="401.2" cy="111.1" r="2.0" fill="#0000ff"/>
<circle cx="396.5" cy="111.1" r="2.0" fill="#0000ff"/>
<circle cx="392.3" cy="111.1" r="2.0" fill="#0000ff"/>
<circle cx="388.4" cy="112.8" r="2.0" fill="#0000ff"/>
<circle cx="384.9" cy="113.6" r="2.0" fill="#0000ff"/>
<circle cx="381.7" cy="113.6" r="2.0" fill="#0000ff"/>
<circle cx="378.7" cy="114.9" r="2.0" fill="#0000ff"/>
<circle cx="376.0" cy="114.9" r="2.0" fill="#0000ff"/>
<circle cx="373.4" cy="114.9" r="2.0" fill="#0000ff"/>
<circle cx="371.0" cy="114.9" r="2.0" fill="#0000ff"/>
<circle cx="368.7" cy="115.8" r="2.0" fill="#0000ff"/>
<circle cx="366.5" cy="115.8" r="2.0" fill="#0000ff"/>
<circle cx="364.4" cy="117.0" r="2.0" fill="#0000ff"/>
<circle cx="362.5" cy="117.0" r="2.0" fill="#0000ff"/>
<circle cx="360.6" cy="117.0" r="2.0" fill="#0000ff"/>
<circle cx="358.8" cy="117.0" r="2.0" fill="#0000ff"/>
<circle cx="357.1" cy="117.0" r="2.0" fill="#0000ff"/>
<circle cx="355.5" cy="119.6" r="2.0" fill="#0000ff"/>
<circle cx="353.9" cy="119.6" r="2.0" fill="#0000ff"/>
<circle cx="352.4" cy="119.6" r="2.0" fill="#0000ff"/>
<circle cx="350.9" cy="119.6" r="2.0" fill="#0000ff"/>
<path d="M45.0,337.9 L45.0,337.7 L45.0,337.5 L45.0,337.3 L45.0,337.1 L45.0,336.9 L45.0,336.6 L45.0,336.4 L45.0,336.3 L45.0,336.1 L45.0,335.9 L45.0,335.7 L45.0,335.5 L45.0,335.2 L45.0,335.0 L45.0,334.8 L45.0,334.6 L45.0,334.4 L45.0,334.2 L45.0,334.1 L45.0,333.8 L45.0,333.6 L45.0,333.4 L45.0,333.2 L45.0,333.0 L45.0,332.8 L45.0,332.6 L45.0,332.3 L45.0,332.1 L45.0,331.9 L45.0,331.8 L45.0,331.6 L45.0,331.4 L45.0,331.2 L45.0,330.9 L45.0,330.7 L45.0,330.5 L45.0,330.3 L45.0,330.1 L45.0,329.9 L45.0,329.6 L45.0,329.5 L45.0,329.3 L45.0,329.1 L45.0,328.9 L45.0,328.7 L45.0,328.5 L45.0,328.2 L45.0,328.0 L45.0,327.8 L45.0,327.6 L45.0,327.4 L45.0,327.3 L45.0,327.1 L45.0,326.8 L45.0,326.6 L45.0,326.4 L45.0,326.2 L45.0,326.0 L45.0,325.8 L45.0,325.6 L45.0,325.3 L45.0,325.1 L45.0,325.0 L45.0,324.8 L45.0,324.6 L45.0,324.4 L45.0,324.2 L45.0,323.9 L45.0,323.7 L45.0,323.5 L45.0,323.3 L45.0,323.1 L45.0,322.9 L45.0,322.8 L45.0,322.5 L45.0,322.3 L45.0,322.1 L45.0,321.9 L45.0,321.7 L45.0,321.5 L45.0,321.2 L45.0,321.0 L45.0,320.8 L45.0,320.6 L45.0,320.5M45.0,311.8 L45.0,311.6 L45.0,311.4 L45.0,311.2 L45.0,311.0 L45.0,310.8 L45.0,310.6 L45.0,310.4 L45.0,310.2 L45.0,309.9 L45.0,309.7 L45.0,309.5 L45.0,309.3 L45.0,309.2 L45.0,309.0 L45.0,308.8 L45.0,308.5 L45.0,308.3 L45.0,308.1 L45.0,307.9 L45.0,307.7 L45.0,307.5 L45.0,307.2 L45.0,307.0 L45.0,306.9 L45.0,306.7 L45.0,306.5 L45.0,306.3 L45.0,306.1 L45.0,305.8 L45.0,305.6 L45.0,305.4 L45.0,305.2 L45.0,305.0 L45.0,304.8 L45.0,304.7 L45.0,304.4 L45.0,304.2 L45.0,304.0 L45.0,303.8 L45.0,303.6 L45.0,303.4 L45.0,303.2 L45.0,302.9 L45.0,302.7 L45.0,302.5 L45.0,302.4 L45.0,302.2 L45.0,302.0 L45.0,301.7 L45.0,301.5 L45.0,301.3 L45.0,301.1 L45.0,300.9 L45.0,300.7 L45.0,300.5 L45.0,300.2 L45.0,300.1 L45.1,299.9 L45.1,299.7 L45.1,299.5 L45.1,299.3 L45.1,299.1 L45.1,298.8 L45.1,298.6 L45.1,298.4 L45.1,298.2 L45.1,298.0 L45.1,297.9 L45.1,297.7 L45.1,297.4 L45.1,297.2 L45.1,297.0 L45.1,296.8 L45.1,296.6 L45.1,296.4 L45.1,296.1 L45.1,295.9 L45.1,295.7 L45.1,295.6 L45.1,295.4 L45.1,295.2 L45.1,295.0 L45.1,294.7 L45.1,294.5 L45.1,294.3 L45.1,294.1 L45.1,293.9 L45.1,293.7 L45.2,293.5 L45.2,293.3 L45.2,293.1 L45.2,292.9 L45.2,292.7 L45.2,292.5 L45.2,292.3 L45.2,292.1 L45.2,291.8 L45.2,291.6 L45.2,291.4 L45.2,291.2 L45.2,291.1 L45.2,290.9 L45.2,290.7 L45.2,290.4 L45.2,290.2 L45.2,290.0 L45.2,289.8 L45.2,289.6 L45.3,289.4 L45.3,289.1 L45.3,288.9 L45.3,288.8 L45.3,288.6 L45.3,288.4 L45.3,288.2 L45.3,288.0 L45.3,287.7 L45.3,287.5 L45.3,287.3 L45.3,287.1 L45.3,286.9 L45.3,286.7 L45.3,286.6 L45.4,286.3 L45.4,286.1 L45.4,285.9 L45.4,285.7 L45.4,285.5 L45.4,285.3 L45.4,285.1 L45.4,284.8 L45.4,284.6 L45.4,284.4 L45.4,284.3 L45.4,284.1 L45.5,283.9 L45.5,283.7 L45.5,283.4 L45.5,283.2 L45.5,283.0 L45.5,282.8 L45.5,282.6 L45.5,282.4 L45.5,282.1 L45.5,282.0 L45.6,281.8 L45.6,281.6 L45.6,281.4 L45.6,281.2 L45.6,281.0 L45.6,280.7 L45.6,280.5 L45.6,280.3 L45.7,280.1 L45.7,280.0 L45.7,279.8 L45.7,279.6 L45.7,279.3 L45.7,279.1 L45.7,278.9 L45.7,278.7 L45.8,278.5 L45.8,278.3 L45.8,278.1 L45.8,277.8 L45.8,277.7 L45.8,277.5 L45.8,277.3 L45.9,277.1 L45.9,276.9 L45.9,276.7 L45.9,276.4 L45.9,276.2 L45.9,276.0 L46.0,275.8 L46.0,275.6 L46.0,275.5 L46.0,275.3 L46.0,275.0 L46.0,274.8 L46.0,274.6 L46.1,274.4 L46.1,274.2 L46.1,274.0 L46.1,273.7 L46.1,273.5 L46.2,273.3 L46.2,273.2 L46.2,273.0 L46.2,272.8 L46.2,272.6 L46.3,272.3 L46.3,272.1 L46.3,271.9 L46.3,271.7 L46.3,271.5 L46.4,271.3 L46.4,271.1 L46.4,270.9 L46.4,270.7 L46.4,270.5 L46.5,270.3 L46.5,270.1 L46.5,269.9 L46.5,269.7 L46.6,269.4 L46.6,269.2 L46.6,269.0 L46.6,268.8 L46.7,268.7 L46.7,268.5 L46.7,268.3 L46.7,268.0 L46.8,267.8 L46.8,267.6 L46.8,267.4 L46.9,267.2 L46.9,267.0 L46.9,266.7 L46.9,266.5 L47.0,266.4 L47.0,266.2 L47.0,266.0 L47.1,265.8 L47.1,265.6 L47.1,265.3 L47.1,265.1 L47.2,264.9 L47.2,264.7 L47.2,264.5 L47.3,264.3 L47.3,264.2 L47.3,263.9 L47.4,263.7 L47.4,263.5 L47.4,263.3 L47.5,263.1 L47.5,262.9 L47.5,262.7 L47.6,262.4 L47.6,262.2 L47.7,262.0 L47.7,261.9 L47.7,261.7 L47.8,261.5 L47.8,261.3 L47.8,261.0 L47.9,260.8 L47.9,260.6 L48.0,260.4 L48.0,260.2 L48.0,260.0 L48.1,259.7 L48.1,259.6 L48.2,259.4 L48.2,259.2 L48.2,259.0 L48.3,258.8 L48.3,258.6 L48.4,258.3 L48.4,258.1 L48.5,257.9 L48.5,257.7 L48.6,257.5 L48.6,257.4 L48.6,257.2 L48.7,256.9 L48.7,256.7 L48.8,256.5 L48.8,256.3 L48.9,256.1 L48.9,255.9 L49.0,255.7 L49.0,255.4 L49.1,255.2 L49.1,255.1 L49.2,254.9 L49.2,254.7 L49.3,254.5 L49.4,254.3 L49.4,254.0 L49.5,253.8 L49.5,253.6 L49.6,253.4 L49.6,253.2 L49.7,253.0 L49.7,252.9 L49.8,252.6 L49.9,252.4 L49.9,252.2 L50.0,252.0 L50.0,251.8 L50.1,251.6 L50.2,251.3 L50.2,251.1 L50.3,250.9 L50.4,250.7 L50.4,250.6 L50.5,250.4 L50.5,250.2 L50.6,249.9 L50.7,249.7 L50.7,249.5 L50.8,249.3 L50.9,249.1 L51.0,248.9 L51.0,248.7 L51.1,248.4 L51.1,248.3 L51.2,248.1 L51.3,247.9 L51.4,247.7 L51.4,247.5 L51.5,247.3 L51.6,247.0 L51.7,246.8 L51.8,246.6 L51.8,246.4 L51.9,246.2 L52.0,246.1 L52.0,245.9 L52.1,245.6 L52.2,245.4 L52.3,245.2 L52.4,245.0 L52.5,244.8 L52.5,244.6 L52.6,244.3 L52.7,244.1 L52.8,243.9 L52.8,243.8 L52.9,243.6 L53.0,243.4 L53.1,243.2 L53.2,242.9 L53.3,242.7 L53.4,242.5 L53.5,242.3 L53.6,242.1 L53.7,241.9 L53.8,241.7 L53.8,241.5 L53.9,241.3 L54.0,241.1 L54.1,240.9 L54.2,240.7 L54.3,240.5 L54.4,240.3 L54.5,240.0 L54.6,239.8 L54.8,239.6 L54.9,239.4 L54.9,239.3 L55.0,239.1 L55.1,238.9 L55.2,238.6 L55.4,238.4 L55.5,238.2 L55.6,238.0 L55.7,237.8 L55.8,237.6 L55.9,237.3 L56.0,237.1 L56.1,237.0 L56.2,236.8 L56.3,236.6 L56.5,236.4 L56.6,236.2 L56.7,235.9 L56.8,235.7 L56.9,235.5 L57.1,235.3 L57.2,235.1 L57.3,234.9 L57.4,234.8 L57.5,234.5 L57.6,234.3 L57.8,234.1 L57.9,233.9 L58.0,233.7 L58.2,233.5 L58.3,233.3 L58.4,233.0 L58.6,232.8 L58.7,232.6 L58.8,232.5 L58.9,232.3 L59.1,232.1 L59.2,231.9 L59.3,231.6 L59.5,231.4 L59.6,231.2 L59.8,231.0 L59.9,230.8 L60.1,230.6 L60.2,230.3 L60.3,230.2 L60.5,230.0 L60.6,229.8 L60.8,229.6 L60.9,229.4 L61.1,229.2 L61.2,228.9 L61.4,228.7 L61.5,228.5 L61.7,228.3 L61.9,228.1 L62.0,228.0 L62.1,227.8 L62.3,227.5 L62.4,227.3 L62.6,227.1 L62.8,226.9 L63.0,226.7 L63.1,226.5 L63.3,226.3 L63.5,226.0 L63.6,225.8 L63.7,225.7 L63.9,225.5 L64.1,225.3 L64.3,225.1 L64.5,224.9 L64.6,224.6 L64.8,224.4 L65.0,224.2 L65.2,224.0 L65.4,223.8 L65.6,223.6 L65.7,223.5 L65.9,223.2 L66.0,223.0 L66.2,222.8 L66.4,222.6 L66.6,222.4 L66.8,222.2 L67.0,221.9 L67.2,221.7 L67.4,221.5 L67.6,221.3 L67.7,221.2 L68.0,221.0 L68.2,220.8 L68.4,220.5 L68.6,220.3 L68.8,220.1 L69.0,219.9 L69.2,219.7 L69.4,219.5 L69.7,219.2 L69.8,219.1 L70.0,218.9 L70.2,218.7 L70.4,218.5 L70.7,218.3 L70.9,218.1 L71.1,217.8 L71.3,217.6 L71.6,217.4 L71.8,217.2 L72.0,217.0 L72.2,216.9 L72.4,216.7 L72.6,216.4 L72.9,216.2 L73.1,216.0 L73.4,215.8 L73.6,215.6 L73.9,215.4 L74.1,215.2 L74.3,214.9 L74.6,214.7 L74.7,214.6 L75.0,214.4 L75.2,214.2 L75.5,214.0 L75.8,213.8 L76.0,213.5 L76.3,213.3 L76.5,213.1 L76.8,212.9 L77.1,212.7 L77.4,212.5 L77.5,212.4 L77.8,212.1 L78.0,211.9 L78.3,211.7 L78.6,211.5 L78.9,211.3 L79.2,211.1 L79.4,210.8 L79.7,210.6 L80.0,210.4 L80.3,210.2 L80.4,210.1 L80.7,209.9 L81.0,209.7 L81.3,209.4 L81.6,209.2 L81.9,209.0 L82.2,208.8 L82.5,208.6 L82.8,208.4 L83.1,208.2 L83.5,207.9 L83.6,207.8 L83.9,207.6 L84.2,207.4 L84.5,207.2 L84.9,207.0 L85.2,206.8 L85.5,206.5 L85.8,206.3 L86.2,206.1 L86.5,205.9 L86.8,205.7 L87.0,205.6 L87.3,205.4 L87.7,205.1 L88.0,204.9 L88.3,204.7 L88.7,204.5 L89.0,204.3 L89.4,204.1 L89.7,203.8 L90.1,203.6 L90.4,203.4 L90.6,203.3 L91.0,203.1 L91.3,202.9 L91.7,202.7 L92.0,202.4 L92.4,202.2 L92.8,202.0 L93.1,201.8 L93.5,201.6 L93.9,201.4 L94.3,201.2 L94.5,201.0 L94.8,200.8 L95.2,200.6 L95.6,200.4 L96.0,200.2 L96.4,200.0 L96.8,199.8 L97.2,199.5 L97.6,199.3 L98.0,199.1 L98.4,198.9 L98.6,198.8 L99.0,198.6 L99.4,198.4 L99.8,198.1 L100.2,197.9 L100.6,197.7 L101.0,197.5 L101.4,197.3 L101.9,197.1 L102.3,196.8 L102.7,196.6 L102.9,196.5 L103.4,196.3 L103.8,196.1 L104.2,195.9 L104.7,195.7 L105.1,195.4 L105.6,195.2 L106.0,195.0 L106.5,194.8 L106.9,194.6 L107.4,194.4 L107.6,194.3 L108.0,194.0 L108.5,193.8 L109.0,193.6 L109.4,193.4 L109.9,193.2 L110.4,193.0 L110.8,192.8 L111.3,192.5 L111.8,192.3 L112.3,192.1 L112.5,192.0 L113.0,191.8 L113.5,191.6 L114.0,191.4 L114.5,191.1 L115.0,190.9 L115.5,190.7 L116.0,190.5 L116.5,190.3 L117.0,190.1 L117.5,189.8 L117.8,189.7 L118.3,189.5 L118.8,189.3 L119.3,189.1 L119.9,188.9 L120.4,188.7 L120.9,188.4 L121.5,188.2 L122.0,188.0 L122.5,187.8 L123.1,187.6 L123.4,187.5 L123.9,187.3 L124.5,187.0 L125.0,186.8 L125.6,186.6 L126.1,186.4 L126.7,186.2 L127.3,186.0 L127.8,185.8 L128.4,185.5 L129.0,185.3 L129.3,185.2 L129.8,185.0 L130.4,184.8 L131.0,184.6 L131.6,184.4 L132.2,184.1 L132.8,183.9 L133.4,183.7 L134.0,183.5 L134.6,183.3 L135.2,183.1 L135.5,183.0 L136.1,182.7 L136.8,182.5 L137.4,182.3 L138.0,182.1 L138.6,181.9 L139.3,181.7 L139.9,181.4 L140.5,181.2 L141.2,181.0 L141.8,180.8 L142.2,180.7 L142.8,180.5 L143.5,180.3 L144.1,180.0 L144.8,179.8 L145.4,179.6 L146.1,179.4 L146.8,179.2 L147.5,179.0 L148.1,178.8 L148.8,178.5 L149.2,178.4 L149.9,178.2 L150.6,178.0 L151.2,177.8 L151.9,177.6 L152.7,177.4 L153.4,177.1 L154.1,176.9 L154.8,176.7 L155.5,176.5 L156.2,176.3 L156.6,176.2 L157.3,176.0 L158.0,175.7 L158.8,175.5 L159.5,175.3 L160.3,175.1 L161.0,174.9 L161.8,174.7 L162.5,174.4 L163.3,174.2 L164.0,174.0 L164.4,173.9 L165.2,173.7 L166.0,173.5 L166.7,173.3 L167.5,173.0 L168.3,172.8 L169.1,172.6 L169.9,172.4 L170.7,172.2 L171.5,172.0 L172.3,171.8 L172.7,171.6 L173.5,171.4 L174.3,171.2 L175.1,171.0 L176.0,170.8 L176.8,170.6 L177.6,170.4 L178.5,170.1 L179.3,169.9 L180.2,169.7 L181.0,169.5 L181.4,169.4 L182.3,169.2 L183.2,169.0 L184.0,168.7 L184.9,168.5" fill="none" stroke="#00ff00" stroke-width="4.7" stroke-linecap="round" stroke-linejoin="round"/>
<path d="M183.2,169.0 L184.0,168.7 L184.9,168.5 L185.8,168.3 L186.6,168.1 L187.5,167.9 L188.4,167.7 L189.3,167.4 L190.2,167.2 L190.6,167.1 L191.5,166.9 L192.5,166.7 L193.4,166.5 L194.3,166.3 L195.2,166.0 L196.1,165.8 L197.1,165.6 L198.0,165.4 L198.9,165.2 L199.9,165.0 L200.4,164.9 L201.3,164.6 L202.3,164.4 L203.2,164.2 L204.2,164.0 L205.2,163.8 L206.1,163.6 L207.1,163.4 L208.1,163.1 L209.1,162.9 L210.1,162.7 L210.6,162.6 L211.6,162.4 L212.6,162.2 L213.6,162.0 L214.6,161.7 L215.6,161.5 L216.7,161.3 L217.7,161.1 L218.7,160.9 L219.8,160.7 L220.8,160.4 L221.3,160.3 L222.4,160.1 L223.5,159.9 L224.5,159.7 L225.6,159.5 L226.7,159.3 L227.8,159.0 L228.8,158.8 L229.9,158.6 L231.0,158.4 L232.1,158.3" fill="none" stroke="#00ff00" stroke-width="4.2" stroke-linecap="round" stroke-linejoin="round"/>
<circle cx="231.5" cy="158.4" r="2.0" fill="#00ff00"/>
<circle cx="232.2" cy="158.3" r="2.0" fill="#00ff00"/>
<circle cx="232.9" cy="158.2" r="2.0" fill="#00ff00"/>
<circle cx="233.6" cy="158.0" r="2.0" fill="#00ff00"/>
<circle cx="234.3" cy="157.9" r="2.0" fill="#00ff00"/>
<circle cx="235.0" cy="157.8" r="2.0" fill="#00ff00"/>
<circle cx="235.7" cy="157.7" r="2.0" fill="#00ff00"/>
<circle cx="236.5" cy="157.6" r="2.0" fill="#00ff00"/>
<circle cx="237.3" cy="157.5" r="2.0" fill="#00ff00"/>
<circle cx="238.0" cy="157.3" r="2.0" fill="#00ff00"/>
<circle cx="238.8" cy="157.2" r="2.0" fill="#00ff00"/>
<circle cx="239.7" cy="157.1" r="2.0" fill="#00ff00"/>
<circle cx="240.5" cy="157.0" r="2.0" fill="#00ff00"/>
<circle cx="241.3" cy="156.8" r="2.0" fill="#00ff00"/>
<circle cx="242.2" cy="156.7" r="2.0" fill="#00ff00"/>
<circle cx="243.1" cy="156.6" r="2.0" fill="#00ff00"/>
<circle cx="244.0" cy="156.4" r="2.0" fill="#00ff00"/>
<circle cx="244.9" cy="156.3" r="2.0" fill="#00ff00"/>
<circle cx="245.8" cy="156.1" r="2.0" fill="#00ff00"/>
<circle cx="246.8" cy="156.0" r="2.0" fill="#00ff00"/>
<circle cx="247.8" cy="155.8" r="2.0" fill="#00ff00"/>
<circle cx="248.8" cy="155.6" r="2.0" fill="#00ff00"/>
<circle cx="249.9" cy="155.5" r="2.0" fill="#00ff00"/>
<circle cx="250.9" cy="155.3" r="2.0" fill="#00ff00"/>
<circle cx="252.0" cy="155.1" r="2.0" fill="#00ff00"/>
<circle cx="253.2" cy="154.9" r="2.0" fill="#00ff00"/>
<circle cx="254.3" cy="154.7" r="2.0" fill="#00ff00"/>
<circle cx="255.5" cy="154.5" r="2.0" fill="#00ff00"/>
<circle cx="256.8" cy="154.3" r="2.0" fill="#00ff00"/>
<circle cx="258.0" cy="154.1" r="2.0" fill="#00ff00"/>
<circle cx="259.3" cy="153.9" r="2.0" fill="#00ff00"/>
<circle cx="260.7" cy="153.6" r="2.0" fill="#00ff00"/>
<circle cx="262.1" cy="153.4" r="2.0" fill="#00ff00"/>
<circle cx="263.6" cy="153.1" r="2.0" fill="#00ff00"/>
<circle cx="265.1" cy="152.8" r="2.0" fill="#00ff00"/>
<circle cx="266.7" cy="152.6" r="2.0" fill="#00ff00"/>
<circle cx="268.3" cy="152.3" r="2.0" fill="#00ff00"/>
<circle cx="270.0" cy="152.0" r="2.0" fill="#00ff00"/>
<circle cx="271.8" cy="151.6" r="2.0" fill="#00ff00"/>
<circle cx="273.7" cy="151.3" r="2.0" fill="#00ff00"/>
<circle cx="275.6" cy="151.0" r="2.0" fill="#00ff00"/>
<circle cx="277.7" cy="150.6" r="2.0" fill="#00ff00"/>
<circle cx="279.9" cy="150.2" r="2.0" fill="#00ff00"/>
<circle cx="282.2" cy="149.8" r="2.0" fill="#00ff00"/>
<circle cx="284.6" cy="149.4" r="2.0" fill="#00ff00"/>
<circle cx="287.2" cy="148.9" r="2.0" fill="#00ff00"/>
<circle cx="289.9" cy="148.4" r="2.0" fill="#00ff00"/>
<circle cx="292.9" cy="147.9" r="2.0" fill="#00ff00"/>
<circle cx="296.1" cy="147.4" r="2.0" fill="#00ff00"/>
<circle cx="299.6" cy="146.8" r="2.0" fill="#00ff00"/>
<circle cx="395.9" cy="127.3" r="2.0" fill="#00ff00"/>
<circle cx="368.1" cy="130.1" r="2.0" fill="#00ff00"/>
<circle cx="351.8" cy="135.0" r="2.0" fill="#00ff00"/>
<circle cx="340.2" cy="139.9" r="2.0" fill="#00ff00"/>
<circle cx="331.3" cy="140.8" r="2.0" fill="#00ff00"/>
<circle cx="324.0" cy="143.5" r="2.0" fill="#00ff00"/>
<circle cx="317.8" cy="144.2" r="2.0" fill="#00ff00"/>
<circle cx="312.4" cy="144.4" r="2.0" fill="#00ff00"/>
<circle cx="307.7" cy="145.2" r="2.0" fill="#00ff00"/>
<circle cx="303.5" cy="146.2" r="2.0" fill="#00ff00"/>
<circle cx="43.2" cy="307.5" r="0.55" fill="#0000ff"/>
<circle cx="46.7" cy="307.5" r="0.55" fill="#0000ff"/>
<circle cx="43.2" cy="326.4" r="0.55" fill="#0000ff"/>
<circle cx="46.7" cy="326.4" r="0.55" fill="#0000ff"/>
<circle cx="43.2" cy="330.3" r="0.55" fill="#0000ff"/>
<circle cx="46.7" cy="330.3" r="0.55" fill="#0000ff"/>
<line x1="43.5" y1="146.0" x2="459.5" y2="146.0" stroke="#000" stroke-width="2"/>
<line x1="44.3" y1="180.0" x2="459.5" y2="180.0" stroke="#000" stroke-width="2" stroke-dasharray="6.6 3.603"/>
<line x1="215" y1="146.0" x2="92.6" y2="146.0" stroke="#0b1f63" stroke-width="3.6"/><polygon points="86.6,146.0 97.8,139.4 99.0,141.1 96.3,144.2 96.3,147.8 99.0,150.9 97.8,152.6" fill="#0b1f63" stroke="#0b1f63" stroke-width="0.7" stroke-linejoin="round"/>
<line x1="303.9" y1="146.0" x2="126.9" y2="146.0" stroke="#5d457f" stroke-width="3.6"/><polygon points="120.9,146.0 132.7,139.4 134.0,141.1 131.1,144.2 131.1,147.8 134.0,150.9 132.7,152.6" fill="#5d457f" stroke="#5d457f" stroke-width="0.7" stroke-linejoin="round"/>
<line x1="144.3" y1="179.7" x2="75.6" y2="179.7" stroke="#651c22" stroke-width="3.6"/><polygon points="69.6,179.7 80.6,173.1 81.8,174.8 79.1,177.9 79.1,181.5 81.8,184.6 80.6,186.3" fill="#651c22" stroke="#651c22" stroke-width="0.7" stroke-linejoin="round"/>
<line x1="113.6" y1="179.7" x2="62.0" y2="179.7" stroke="#87282d" stroke-width="3.6"/><polygon points="56.0,179.7 67.2,173.1 68.4,174.8 65.7,177.9 65.7,181.5 68.4,184.6 67.2,186.3" fill="#87282d" stroke="#87282d" stroke-width="0.7" stroke-linejoin="round"/>
<line x1="379.1" y1="210.6" x2="202.2" y2="210.6" stroke="#5d457f" stroke-width="3.6"/><polygon points="196.2,210.6 208.0,204.0 209.3,205.7 206.4,208.8 206.4,212.4 209.3,215.5 208.0,217.2" fill="#5d457f" stroke="#5d457f" stroke-width="0.7" stroke-linejoin="round"/>
<line x1="379.1" y1="228.8" x2="256.9" y2="228.8" stroke="#0b1f63" stroke-width="3.6"/><polygon points="250.9,228.8 262.7,222.2 264.0,223.9 261.1,227.0 261.1,230.6 264.0,233.7 262.7,235.4" fill="#0b1f63" stroke="#0b1f63" stroke-width="0.7" stroke-linejoin="round"/>
<line x1="379.1" y1="246.7" x2="309.7" y2="246.7" stroke="#8e2b31" stroke-width="3.6"/><polygon points="303.7,246.7 315.5,240.1 316.8,241.8 313.9,244.9 313.9,248.5 316.8,251.6 315.5,253.3" fill="#8e2b31" stroke="#8e2b31" stroke-width="0.7" stroke-linejoin="round"/>
<line x1="379.1" y1="263.8" x2="328.0" y2="263.8" stroke="#5a171f" stroke-width="3.6"/><polygon points="322.0,263.8 333.8,257.2 335.1,258.9 332.2,262.0 332.2,265.6 335.1,268.7 333.8,270.4" fill="#5a171f" stroke="#5a171f" stroke-width="0.7" stroke-linejoin="round"/>
<rect x="228.9" y="274.0" width="225.1" height="64.1" fill="#fff" stroke="#7c7c7c" stroke-width="1"/>
<circle cx="255" cy="282.7" r="2" fill="#ff0000"/>
<text x="278.9" y="287.5" class="t">2000s actual ensemble</text>
<circle cx="255" cy="298" r="2" fill="#ff00ff"/>
<text x="278.9" y="302.8" class="t">2005 actual ensemble</text>
<circle cx="255" cy="313.4" r="2" fill="#0000ff"/>
<text x="278.9" y="318.2" class="t">2000s counterfactual ensemble</text>
<circle cx="255" cy="328.7" r="2" fill="#00ff00"/>
<text x="278.9" y="333.5" class="t">2005 counterfactual ensemble</text>
<text x="39.4" y="347.4" text-anchor="end" class="k">16</text>
<text x="39.4" y="314.6" text-anchor="end" class="k">16.5</text>
<text x="39.4" y="281.8" text-anchor="end" class="k">17</text>
<text x="39.4" y="249.1" text-anchor="end" class="k">17.5</text>
<text x="39.4" y="216.3" text-anchor="end" class="k">18</text>
<text x="39.4" y="183.5" text-anchor="end" class="k">18.5</text>
<text x="39.4" y="150.7" text-anchor="end" class="k">19</text>
<text x="39.4" y="117.9" text-anchor="end" class="k">19.5</text>
<text x="39.4" y="85.2" text-anchor="end" class="k">20</text>
<text x="39.4" y="52.4" text-anchor="end" class="k">20.5</text>
<text x="39.4" y="19.6" text-anchor="end" class="k">21</text>
<text x="182.2" y="358.9" text-anchor="middle" class="k">1</text>
<text x="274.6" y="358.9" text-anchor="middle" class="k">10</text>
<text x="367.1" y="358.9" text-anchor="middle" class="k">100</text>
<text x="459.5" y="358.9" text-anchor="middle" class="k">1000</text>
<text x="250.3" y="8.4" text-anchor="middle" class="t" style="font-size:11.45px">Return periods of daily minimum July temperatures in East Africa</text>
<text x="250.8" y="373.2" text-anchor="middle" class="t">Return time (years)</text>
<text transform="translate(8.8,181) rotate(-90)" text-anchor="middle" class="t">temperature in deg C</text>
</svg>
</body></html>
